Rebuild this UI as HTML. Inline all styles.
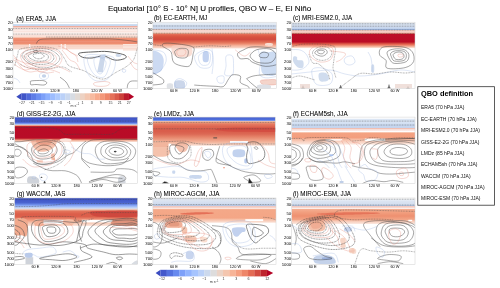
<!DOCTYPE html><html><head><meta charset="utf-8"><style>html,body{margin:0;padding:0;background:#fff;width:500px;height:288px;overflow:hidden}svg{display:block;will-change:transform}svg text{font-family:"Liberation Sans",sans-serif}</style></head><body><svg width="500" height="288" viewBox="0 0 500 288" font-family="Liberation Sans, sans-serif">
<rect width="500" height="288" fill="#ffffff"/>
<text x="108" y="11.2" font-size="8.05" fill="#000" stroke="#000" stroke-width="0.07">Equatorial [10° S - 10° N] U profiles, QBO W – E, El Niño</text>
<clipPath id="ca"><rect x="0" y="0" width="124.80" height="66.3"/></clipPath>
<text x="16.2" y="20.6" font-size="6.3" fill="#000" stroke="#000" stroke-width="0.05">(a) ERA5, JJA</text>
<g transform="translate(13.0,22.2)">
<g clip-path="url(#ca)">
<linearGradient id="ga1" gradientUnits="userSpaceOnUse" x1="0" y1="1.4000000000000021" x2="0" y2="27.8"><stop offset="0.0000" stop-color="#ffffff"/><stop offset="0.0152" stop-color="#d4e0f0"/><stop offset="0.0833" stop-color="#c4d5ee"/><stop offset="0.1061" stop-color="#eeaa9a"/><stop offset="0.1364" stop-color="#f2c0b4"/><stop offset="0.1667" stop-color="#fbeae4"/><stop offset="0.2803" stop-color="#fdf3f0"/><stop offset="0.4318" stop-color="#fdf1ec"/><stop offset="0.5189" stop-color="#f8d6c8"/><stop offset="0.5455" stop-color="#ef9478"/><stop offset="0.6591" stop-color="#ec8468"/><stop offset="0.7576" stop-color="#ee8e72"/><stop offset="0.7917" stop-color="#f4b49c"/><stop offset="0.8295" stop-color="#fbe0d6"/><stop offset="0.8864" stop-color="#f8d4c6"/><stop offset="0.9432" stop-color="#fce6de"/><stop offset="1.0000" stop-color="#ffffff"/></linearGradient>
<rect x="0.00" y="1.40" width="124.80" height="26.40" fill="url(#ga1)" opacity="1"/>
<rect x="16.00" y="22.00" width="1.30" height="6.50" fill="#ffffff" opacity="1"/>
<rect x="47.70" y="22.00" width="1.30" height="6.50" fill="#ffffff" opacity="1"/>
<rect x="51.50" y="22.00" width="1.30" height="6.50" fill="#ffffff" opacity="1"/>
<rect x="110.00" y="21.80" width="14.80" height="6.70" fill="#fbe6dd" opacity="1"/>
<path d="M0,6.3 H125" fill="none" stroke="#444444" stroke-width="0.45" stroke-dasharray="0.9 0.7" opacity="1" stroke-linejoin="round"/>
<path d="M0,11.9 H125" fill="none" stroke="#444444" stroke-width="0.45" stroke-dasharray="0.9 0.7" opacity="1" stroke-linejoin="round"/>
<path d="M33,14.8 H125" fill="none" stroke="#444444" stroke-width="0.45" stroke-dasharray="0.9 0.7" opacity="1" stroke-linejoin="round"/>
<path d="M0,7.6 H125" fill="none" stroke="#f0b0a4" stroke-width="0.3" opacity="1" stroke-linejoin="round"/>
<path d="M0,9.5 H125" fill="none" stroke="#f0b0a4" stroke-width="0.3" opacity="1" stroke-linejoin="round"/>
<path d="M0,13.0 H125" fill="none" stroke="#f0b0a4" stroke-width="0.3" opacity="1" stroke-linejoin="round"/>
<path d="M0,19.5 H125" fill="none" stroke="#f0b0a4" stroke-width="0.3" opacity="1" stroke-linejoin="round"/>
<path d="M0,23.5 H125" fill="none" stroke="#f0b0a4" stroke-width="0.3" opacity="1" stroke-linejoin="round"/>
<path d="M0,26.5 H125" fill="none" stroke="#f0b0a4" stroke-width="0.3" opacity="1" stroke-linejoin="round"/>
<path d="M23.40,21.40 C23.93,20.77 24.25,18.38 26.60,17.60 C28.95,16.82 30.77,16.87 37.50,16.70 C44.23,16.53 57.08,16.60 67.00,16.60 C76.92,16.60 89.00,16.42 97.00,16.70 C105.00,16.98 110.37,17.78 115.00,18.30 C119.63,18.82 123.17,19.55 124.80,19.80" fill="none" stroke="#444444" stroke-width="0.48" opacity="1" stroke-linejoin="round"/>
<path d="M1.00,35.80 C2.33,36.47 6.33,38.80 9.00,39.80 C11.67,40.80 13.17,41.80 17.00,41.80 C20.83,41.80 26.67,39.13 32.00,39.80 C37.33,40.47 44.83,44.13 49.00,45.80 C53.17,47.47 55.67,49.13 57.00,49.80" fill="none" stroke="#e58a7c" stroke-width="0.35" opacity="1" stroke-linejoin="round"/>
<path d="M1.00,41.80 C2.00,42.47 5.00,44.80 7.00,45.80 C9.00,46.80 10.67,47.80 13.00,47.80 C15.33,47.80 18.67,45.47 21.00,45.80 C23.33,46.13 24.67,49.47 27.00,49.80 C29.33,50.13 33.67,48.13 35.00,47.80" fill="none" stroke="#e58a7c" stroke-width="0.35" opacity="1" stroke-linejoin="round"/>
<path d="M53.00,25.80 C53.67,26.47 55.33,28.47 57.00,29.80 C58.67,31.13 61.67,32.13 63.00,33.80 C64.33,35.47 64.67,38.80 65.00,39.80" fill="none" stroke="#e58a7c" stroke-width="0.35" opacity="1" stroke-linejoin="round"/>
<path d="M1.80,43.80 C2.30,41.80 3.90,34.60 4.80,31.80 C5.70,29.00 4.20,28.20 7.20,27.00 C10.20,25.80 18.00,24.90 22.80,24.60 C27.60,24.30 32.20,24.60 36.00,25.20 C39.80,25.80 43.00,26.30 45.60,28.20 C48.20,30.10 49.80,34.00 51.60,36.60 C53.40,39.20 53.17,41.80 56.40,43.80 C59.63,45.80 66.70,46.73 71.00,48.60 C75.30,50.47 78.73,53.67 82.20,55.00 C85.67,56.33 88.33,57.40 91.80,56.60 C95.27,55.80 99.27,52.33 103.00,50.20 C106.73,48.07 111.27,45.93 114.20,43.80 C117.13,41.67 119.00,40.07 120.60,37.40 C122.20,34.73 123.10,29.90 123.80,27.80 C124.50,25.70 124.63,25.30 124.80,24.80" fill="none" stroke="#444444" stroke-width="0.45" stroke-dasharray="0.9 0.7" opacity="1" stroke-linejoin="round"/>
<path d="M7.00,41.80 C8.00,42.30 10.17,43.87 13.00,44.80 C15.83,45.73 20.00,47.13 24.00,47.40 C28.00,47.67 32.67,46.83 37.00,46.40 C41.33,45.97 46.33,44.23 50.00,44.80 C53.67,45.37 57.50,48.97 59.00,49.80" fill="none" stroke="#444444" stroke-width="0.42" stroke-dasharray="0.9 0.7" opacity="1" stroke-linejoin="round"/>
<path d="M9.60,31.80 C10.40,30.60 11.00,29.10 14.40,28.20 C17.80,27.30 25.60,26.20 30.00,26.40 C34.40,26.60 38.00,27.70 40.80,29.40 C43.60,31.10 47.00,34.20 46.80,36.60 C46.60,39.00 42.80,42.30 39.60,43.80 C36.40,45.30 31.60,46.10 27.60,45.60 C23.60,45.10 18.60,42.50 15.60,40.80 C12.60,39.10 10.60,36.90 9.60,35.40 C8.60,33.90 8.80,33.00 9.60,31.80Z" fill="none" stroke="#444444" stroke-width="0.5" stroke-dasharray="1.0 0.5" opacity="1" stroke-linejoin="round"/>
<path d="M12.00,33.00 C13.40,31.20 19.80,28.60 24.00,28.20 C28.20,27.80 34.40,29.20 37.20,30.60 C40.00,32.00 41.20,34.80 40.80,36.60 C40.40,38.40 37.60,40.50 34.80,41.40 C32.00,42.30 27.20,42.40 24.00,42.00 C20.80,41.60 17.60,40.50 15.60,39.00 C13.60,37.50 10.60,34.80 12.00,33.00Z" fill="none" stroke="#444444" stroke-width="0.5" stroke-dasharray="1.0 0.5" opacity="1" stroke-linejoin="round"/>
<path d="M15.60,33.00 C16.80,31.90 22.00,30.00 25.20,30.00 C28.40,30.00 33.40,31.70 34.80,33.00 C36.20,34.30 35.20,36.80 33.60,37.80 C32.00,38.80 27.80,39.20 25.20,39.00 C22.60,38.80 19.60,37.60 18.00,36.60 C16.40,35.60 14.40,34.10 15.60,33.00Z" fill="none" stroke="#444444" stroke-width="0.5" stroke-dasharray="1.0 0.5" opacity="1" stroke-linejoin="round"/>
<path d="M20.40,32.40 C21.40,31.70 25.80,30.90 27.60,31.20 C29.40,31.50 31.40,33.30 31.20,34.20 C31.00,35.10 28.00,36.40 26.40,36.60 C24.80,36.80 22.60,36.10 21.60,35.40 C20.60,34.70 19.40,33.10 20.40,32.40Z" fill="none" stroke="#444444" stroke-width="0.5" stroke-dasharray="1.0 0.5" opacity="1" stroke-linejoin="round"/>
<path d="M7.50,33.80 C7.50,31.38 9.75,29.70 13.00,28.30 C16.25,26.90 22.00,25.40 27.00,25.40 C32.00,25.40 39.33,26.48 43.00,28.30 C46.67,30.12 49.00,33.55 49.00,36.30 C49.00,39.05 46.67,43.05 43.00,44.80 C39.33,46.55 32.00,47.13 27.00,46.80 C22.00,46.47 16.25,44.97 13.00,42.80 C9.75,40.63 7.50,36.22 7.50,33.80Z" fill="none" stroke="#e58a7c" stroke-width="0.35" opacity="1" stroke-linejoin="round"/>
<path d="M11.00,33.30 C12.17,31.42 16.67,29.58 21.00,29.00 C25.33,28.42 33.25,28.58 37.00,29.80 C40.75,31.02 43.50,34.13 43.50,36.30 C43.50,38.47 40.25,41.55 37.00,42.80 C33.75,44.05 27.83,44.22 24.00,43.80 C20.17,43.38 16.17,42.05 14.00,40.30 C11.83,38.55 9.83,35.18 11.00,33.30Z" fill="none" stroke="#e58a7c" stroke-width="0.35" opacity="1" stroke-linejoin="round"/>
<path d="M14.00,33.20 C15.42,31.77 21.25,29.43 25.00,29.20 C28.75,28.97 34.50,30.37 36.50,31.80 C38.50,33.23 38.58,36.33 37.00,37.80 C35.42,39.27 30.42,40.60 27.00,40.60 C23.58,40.60 18.67,39.03 16.50,37.80 C14.33,36.57 12.58,34.63 14.00,33.20Z" fill="none" stroke="#e58a7c" stroke-width="0.35" opacity="1" stroke-linejoin="round"/>
<ellipse cx="22.80" cy="29.40" rx="2.20" ry="1.10" fill="none" stroke="#444444" stroke-width="0.45" opacity="1"/>
<path d="M66.20,31.00 C68.30,30.10 77.20,29.87 82.00,29.60 C86.80,29.33 90.17,28.90 95.00,29.40 C99.83,29.90 108.07,31.53 111.00,32.60 C113.93,33.67 113.43,34.93 112.60,35.80 C111.77,36.67 108.13,37.53 106.00,37.80 C103.87,38.07 102.43,38.10 99.80,37.40 C97.17,36.70 93.67,33.87 90.20,33.60 C86.73,33.33 82.47,35.57 79.00,35.80 C75.53,36.03 71.53,35.80 69.40,35.00 C67.27,34.20 64.10,31.90 66.20,31.00Z" fill="none" stroke="#444444" stroke-width="0.85" opacity="1" stroke-linejoin="round"/>
<path d="M87.80,32.60 L92.60,32.00 L89.80,50.00 L84.20,50.00 Z" fill="#cbd7ea" stroke="none" stroke-width="0.55" opacity="1" stroke-linejoin="round"/>
<path d="M103.00,32.00 C103.75,31.65 107.25,31.90 108.00,32.30 C108.75,32.70 108.25,34.05 107.50,34.40 C106.75,34.75 104.25,34.80 103.50,34.40 C102.75,34.00 102.25,32.35 103.00,32.00Z" fill="#ccd9ec" stroke="none" stroke-width="0.5" opacity="1" stroke-linejoin="round"/>
<path d="M75.00,35.80 C76.67,33.97 83.33,34.47 87.00,34.80 C90.67,35.13 95.67,35.63 97.00,37.80 C98.33,39.97 96.00,44.97 95.00,47.80 C94.00,50.63 93.00,53.80 91.00,54.80 C89.00,55.80 85.33,55.30 83.00,53.80 C80.67,52.30 78.33,48.80 77.00,45.80 C75.67,42.80 73.33,37.63 75.00,35.80Z" fill="none" stroke="#9fb8e2" stroke-width="0.35" opacity="1" stroke-linejoin="round"/>
<path d="M72.00,33.80 C74.33,31.30 82.17,32.47 87.00,32.80 C91.83,33.13 98.67,33.30 101.00,35.80 C103.33,38.30 102.33,44.13 101.00,47.80 C99.67,51.47 96.33,56.13 93.00,57.80 C89.67,59.47 84.33,59.47 81.00,57.80 C77.67,56.13 74.50,51.80 73.00,47.80 C71.50,43.80 69.67,36.30 72.00,33.80Z" fill="none" stroke="#9fb8e2" stroke-width="0.35" opacity="1" stroke-linejoin="round"/>
<path d="M81.00,36.80 C81.83,34.80 86.00,35.30 88.00,35.80 C90.00,36.30 92.50,37.80 93.00,39.80 C93.50,41.80 92.00,45.80 91.00,47.80 C90.00,49.80 88.33,51.80 87.00,51.80 C85.67,51.80 84.00,50.30 83.00,47.80 C82.00,45.30 80.17,38.80 81.00,36.80Z" fill="none" stroke="#9fb8e2" stroke-width="0.35" opacity="1" stroke-linejoin="round"/>
<ellipse cx="111.00" cy="48.60" rx="1.80" ry="1.60" fill="none" stroke="#9fb8e2" stroke-width="0.35" opacity="1"/>
<ellipse cx="31.00" cy="53.80" rx="2.20" ry="1.80" fill="#c4d3ea" stroke="none" stroke-width="0.55" opacity="1"/>
<ellipse cx="31.00" cy="53.80" rx="4.60" ry="3.60" fill="none" stroke="#9fb8e2" stroke-width="0.35" opacity="1"/>
<path d="M18.00,58.80 C19.25,58.42 22.83,58.33 25.00,58.30 C27.17,58.27 29.53,58.22 31.00,58.60 C32.47,58.98 33.80,59.90 33.80,60.60 C33.80,61.30 32.80,62.52 31.00,62.80 C29.20,63.08 25.17,62.33 23.00,62.30 C20.83,62.27 18.92,62.88 18.00,62.60 C17.08,62.32 17.50,61.23 17.50,60.60 C17.50,59.97 16.75,59.18 18.00,58.80Z" fill="none" stroke="#444444" stroke-width="0.48" opacity="1" stroke-linejoin="round"/>
<path d="M47.00,55.00 C48.00,55.80 51.40,57.93 53.00,59.80 C54.60,61.67 56.00,65.13 56.60,66.20" fill="none" stroke="#444444" stroke-width="0.48" opacity="1" stroke-linejoin="round"/>
<path d="M114.20,66.20 C114.33,65.47 114.37,63.00 115.00,61.80 C115.63,60.60 116.37,59.50 118.00,59.00 C119.63,58.50 123.67,58.83 124.80,58.80" fill="none" stroke="#444444" stroke-width="0.48" opacity="1" stroke-linejoin="round"/>
<path d="M81.00,60.80 C82.33,60.05 88.33,59.30 91.00,59.30 C93.67,59.30 96.67,60.05 97.00,60.80 C97.33,61.55 95.33,63.30 93.00,63.80 C90.67,64.30 85.00,64.30 83.00,63.80 C81.00,63.30 79.67,61.55 81.00,60.80Z" fill="none" stroke="#e58a7c" stroke-width="0.35" opacity="1" stroke-linejoin="round"/>
<path d="M1.00,55.80 C1.67,56.13 4.00,56.97 5.00,57.80 C6.00,58.63 6.67,60.30 7.00,60.80" fill="none" stroke="#9fb8e2" stroke-width="0.35" opacity="1" stroke-linejoin="round"/>
<path d="M117.00,39.80 C117.67,40.80 119.70,44.47 121.00,45.80 C122.30,47.13 124.17,47.47 124.80,47.80" fill="none" stroke="#e58a7c" stroke-width="0.35" opacity="1" stroke-linejoin="round"/>
<path d="M115.00,33.80 C115.83,34.80 118.37,38.47 120.00,39.80 C121.63,41.13 124.00,41.47 124.80,41.80" fill="none" stroke="#e58a7c" stroke-width="0.35" opacity="1" stroke-linejoin="round"/>
<path d="M0.00,37.80 C0.67,38.13 2.83,38.80 4.00,39.80 C5.17,40.80 5.83,42.47 7.00,43.80 C8.17,45.13 9.33,46.80 11.00,47.80 C12.67,48.80 14.67,49.63 17.00,49.80 C19.33,49.97 22.33,48.63 25.00,48.80 C27.67,48.97 30.33,50.63 33.00,50.80 C35.67,50.97 39.67,49.97 41.00,49.80" fill="none" stroke="#e58a7c" stroke-width="0.35" opacity="1" stroke-linejoin="round"/>
<path d="M0.00,32.80 C0.50,33.30 2.00,34.47 3.00,35.80 C4.00,37.13 4.50,39.30 6.00,40.80 C7.50,42.30 9.50,43.80 12.00,44.80 C14.50,45.80 17.83,46.47 21.00,46.80 C24.17,47.13 28.00,46.63 31.00,46.80 C34.00,46.97 36.33,47.13 39.00,47.80 C41.67,48.47 45.67,50.30 47.00,50.80" fill="none" stroke="#e58a7c" stroke-width="0.35" opacity="1" stroke-linejoin="round"/>
<path d="M49.00,27.80 C49.67,28.63 51.67,31.13 53.00,32.80 C54.33,34.47 55.33,36.47 57.00,37.80 C58.67,39.13 61.33,39.13 63.00,40.80 C64.67,42.47 66.33,46.63 67.00,47.80" fill="none" stroke="#e58a7c" stroke-width="0.35" opacity="1" stroke-linejoin="round"/>
<path d="M45.00,23.80 C46.00,24.13 48.67,24.63 51.00,25.80 C53.33,26.97 56.67,29.47 59.00,30.80 C61.33,32.13 64.00,33.30 65.00,33.80" fill="none" stroke="#e58a7c" stroke-width="0.35" opacity="1" stroke-linejoin="round"/>
</g>
<rect x="0" y="0" width="124.80" height="66.3" fill="none" stroke="#d0d0d0" stroke-width="0.5"/>
<text x="-0.4" y="1.50" font-size="4.3" text-anchor="end" fill="#000">20</text>
<line x1="-0.8" y1="0.00" x2="0" y2="0.00" stroke="#666" stroke-width="0.3"/>
<text x="-0.4" y="8.37" font-size="4.3" text-anchor="end" fill="#000">30</text>
<line x1="-0.8" y1="6.87" x2="0" y2="6.87" stroke="#666" stroke-width="0.3"/>
<text x="-0.4" y="17.03" font-size="4.3" text-anchor="end" fill="#000">50</text>
<line x1="-0.8" y1="15.53" x2="0" y2="15.53" stroke="#666" stroke-width="0.3"/>
<text x="-0.4" y="22.73" font-size="4.3" text-anchor="end" fill="#000">70</text>
<line x1="-0.8" y1="21.23" x2="0" y2="21.23" stroke="#666" stroke-width="0.3"/>
<text x="-0.4" y="28.78" font-size="4.3" text-anchor="end" fill="#000">100</text>
<line x1="-0.8" y1="27.28" x2="0" y2="27.28" stroke="#666" stroke-width="0.3"/>
<text x="-0.4" y="40.52" font-size="4.3" text-anchor="end" fill="#000">200</text>
<line x1="-0.8" y1="39.02" x2="0" y2="39.02" stroke="#666" stroke-width="0.3"/>
<text x="-0.4" y="47.40" font-size="4.3" text-anchor="end" fill="#000">300</text>
<line x1="-0.8" y1="45.90" x2="0" y2="45.90" stroke="#666" stroke-width="0.3"/>
<text x="-0.4" y="56.05" font-size="4.3" text-anchor="end" fill="#000">500</text>
<line x1="-0.8" y1="54.55" x2="0" y2="54.55" stroke="#666" stroke-width="0.3"/>
<text x="-0.4" y="61.76" font-size="4.3" text-anchor="end" fill="#000">700</text>
<line x1="-0.8" y1="60.26" x2="0" y2="60.26" stroke="#666" stroke-width="0.3"/>
<text x="-0.4" y="67.80" font-size="4.3" text-anchor="end" fill="#000">1000</text>
<line x1="-0.8" y1="66.30" x2="0" y2="66.30" stroke="#666" stroke-width="0.3"/>
<text x="21.30" y="70.10" font-size="3.9" text-anchor="middle" fill="#000">60 E</text>
<text x="42.10" y="70.10" font-size="3.9" text-anchor="middle" fill="#000">120 E</text>
<text x="62.90" y="70.10" font-size="3.9" text-anchor="middle" fill="#000">180</text>
<text x="83.70" y="70.10" font-size="3.9" text-anchor="middle" fill="#000">120 W</text>
<text x="104.50" y="70.10" font-size="3.9" text-anchor="middle" fill="#000">60 W</text>
</g>
<clipPath id="cb"><rect x="0" y="0" width="123.40" height="66.3"/></clipPath>
<text x="154.0" y="20.4" font-size="6.3" fill="#000" stroke="#000" stroke-width="0.05">(b) EC-EARTH, MJ</text>
<g transform="translate(152.9,22.2)">
<g clip-path="url(#cb)">
<linearGradient id="gb2" gradientUnits="userSpaceOnUse" x1="0" y1="0.0" x2="0" y2="26.8"><stop offset="0.0000" stop-color="#e8eef6"/><stop offset="0.0858" stop-color="#e0e8f3"/><stop offset="0.1231" stop-color="#d0ddf0"/><stop offset="0.2537" stop-color="#cddaee"/><stop offset="0.2761" stop-color="#f2cfc4"/><stop offset="0.3097" stop-color="#f6dcd4"/><stop offset="0.3657" stop-color="#fbeee8"/><stop offset="0.4179" stop-color="#f2ab92"/><stop offset="0.4627" stop-color="#e26650"/><stop offset="0.5522" stop-color="#d8523f"/><stop offset="0.6418" stop-color="#d24a3e"/><stop offset="0.7351" stop-color="#e06a52"/><stop offset="0.8060" stop-color="#ec8a6e"/><stop offset="0.8694" stop-color="#f4b098"/><stop offset="0.9440" stop-color="#f8d0c0"/><stop offset="1.0000" stop-color="#ffffff"/></linearGradient>
<rect x="0.00" y="0.00" width="123.40" height="26.80" fill="url(#gb2)" opacity="1"/>
<path d="M0,3.8 H125" fill="none" stroke="#444444" stroke-width="0.45" stroke-dasharray="0.9 0.7" opacity="1" stroke-linejoin="round"/>
<path d="M0,7.2 H125" fill="none" stroke="#444444" stroke-width="0.45" stroke-dasharray="0.9 0.7" opacity="1" stroke-linejoin="round"/>
<path d="M0,11.0 H125" fill="none" stroke="#444444" stroke-width="0.45" stroke-dasharray="0.9 0.7" opacity="1" stroke-linejoin="round"/>
<path d="M0,9.0 H125" fill="none" stroke="#e9a090" stroke-width="0.35" opacity="1" stroke-linejoin="round"/>
<path d="M112.88,21.08 C113.95,20.65 118.21,20.65 119.28,21.08 C120.35,21.51 120.35,23.21 119.28,23.64 C118.21,24.07 113.95,24.07 112.88,23.64 C111.81,23.21 111.81,21.51 112.88,21.08Z" fill="#f8dcd0" stroke="none" stroke-width="0.5" opacity="1" stroke-linejoin="round"/>
<path d="M-0.90,30.04 C0.38,26.73 4.86,29.61 6.78,30.68 C8.70,31.75 10.09,34.00 10.62,36.45 C11.15,38.91 10.62,43.17 9.98,45.41 C9.34,47.65 8.59,49.04 6.78,49.89 C4.97,50.74 0.38,53.84 -0.90,50.53 C-2.18,47.22 -2.18,33.35 -0.90,30.04Z" fill="#ccdaf2" stroke="none" stroke-width="0.5" opacity="1" stroke-linejoin="round"/>
<path d="M50.32,30.04 C51.17,28.55 54.59,28.55 55.44,30.04 C56.29,31.54 56.29,37.52 55.44,39.01 C54.59,40.51 51.17,40.51 50.32,39.01 C49.47,37.52 49.47,31.54 50.32,30.04Z" fill="#c2d2f0" stroke="none" stroke-width="0.5" opacity="1" stroke-linejoin="round"/>
<path d="M107.76,30.04 C109.04,28.33 112.88,29.83 115.44,30.04 C118.00,30.25 121.84,27.69 123.12,31.32 C124.40,34.95 125.25,48.40 123.12,51.81 C120.99,55.23 112.88,53.73 110.32,51.81 C107.76,49.89 108.19,43.92 107.76,40.29 C107.33,36.66 106.48,31.75 107.76,30.04Z" fill="#cddcf2" stroke="none" stroke-width="0.5" opacity="1" stroke-linejoin="round"/>
<path d="M22.15,59.01 C23.64,57.73 29.62,57.73 31.11,59.01 C32.60,60.29 32.60,65.41 31.11,66.69 C29.62,67.97 23.64,67.97 22.15,66.69 C20.66,65.41 20.66,60.29 22.15,59.01Z" fill="#cbd6ea" stroke="none" stroke-width="0.5" opacity="1" stroke-linejoin="round"/>
<path d="M19.59,23.64 C22.15,22.04 34.52,22.57 37.51,24.28 C40.50,25.99 40.07,32.28 37.51,33.88 C34.95,35.48 25.14,35.59 22.15,33.88 C19.16,32.17 17.03,25.24 19.59,23.64Z" fill="#f7d2c4" stroke="none" stroke-width="0.5" opacity="0.7" stroke-linejoin="round"/>
<path d="M107.76,58.37 C108.61,57.56 112.88,57.58 115.44,57.47 C118.00,57.36 121.84,56.94 123.12,57.73 C124.40,58.52 125.25,61.44 123.12,62.21 C120.99,62.98 112.88,62.98 110.32,62.34 C107.76,61.70 106.91,59.18 107.76,58.37Z" fill="#f4d4ca" stroke="#e58a7c" stroke-width="0.35" opacity="1" stroke-linejoin="round"/>
<path d="M105.19,62.85 C107.11,62.21 114.80,62.21 116.72,62.85 C118.64,63.49 118.64,66.05 116.72,66.69 C114.80,67.33 107.11,67.33 105.19,66.69 C103.27,66.05 103.27,63.49 105.19,62.85Z" fill="#dde0e6" stroke="none" stroke-width="0.5" opacity="1" stroke-linejoin="round"/>
<path d="M14.46,61.57 C15.32,60.72 18.74,60.72 19.59,61.57 C20.45,62.42 20.45,65.84 19.59,66.69 C18.74,67.54 15.32,67.54 14.46,66.69 C13.61,65.84 13.61,62.42 14.46,61.57Z" fill="#e0e2e6" stroke="none" stroke-width="0.5" opacity="1" stroke-linejoin="round"/>
<path d="M-0.90,27.48 C1.02,27.91 8.27,28.12 10.62,30.04 C12.97,31.96 13.82,35.81 13.18,39.01 C12.54,42.21 9.13,47.12 6.78,49.25 C4.43,51.38 0.38,51.38 -0.90,51.81" fill="none" stroke="#9fb8e2" stroke-width="0.35" opacity="1" stroke-linejoin="round"/>
<path d="M42.63,32.60 C44.34,30.68 50.10,27.91 52.88,27.48 C55.65,27.05 58.43,27.27 59.28,30.04 C60.13,32.82 59.92,41.57 58.00,44.13 C56.08,46.69 50.32,46.26 47.76,45.41 C45.20,44.56 43.48,41.15 42.63,39.01 C41.77,36.88 40.92,34.52 42.63,32.60Z" fill="none" stroke="#9fb8e2" stroke-width="0.35" opacity="1" stroke-linejoin="round"/>
<path d="M46.48,32.60 C47.65,31.21 51.07,29.51 52.88,29.40 C54.69,29.29 56.83,29.93 57.36,31.96 C57.89,33.99 57.47,39.76 56.08,41.57 C54.69,43.39 50.75,43.49 49.04,42.85 C47.33,42.21 46.26,39.44 45.83,37.73 C45.40,36.02 45.30,33.99 46.48,32.60Z" fill="none" stroke="#9fb8e2" stroke-width="0.35" opacity="1" stroke-linejoin="round"/>
<path d="M73.18,33.88 C74.25,32.23 78.35,32.23 79.59,33.88 C80.83,35.53 80.60,40.68 80.60,43.80 C80.60,46.92 81.05,51.13 79.60,52.60 C78.15,54.07 72.97,54.07 71.90,52.60 C70.83,51.13 72.97,46.92 73.18,43.80 C73.39,40.68 72.11,35.53 73.18,33.88Z" fill="none" stroke="#9fb8e2" stroke-width="0.35" opacity="1" stroke-linejoin="round"/>
<path d="M59.10,26.20 C59.31,28.34 60.38,34.74 60.38,39.01 C60.38,43.28 59.31,49.68 59.10,51.81" fill="none" stroke="#9fb8e2" stroke-width="0.35" opacity="1" stroke-linejoin="round"/>
<path d="M105.19,27.48 C105.62,29.40 107.55,34.96 107.76,39.01 C107.98,43.07 105.63,49.04 106.48,51.81 C107.33,54.58 110.11,55.22 112.88,55.65 C115.65,56.08 121.41,54.58 123.12,54.37" fill="none" stroke="#9fb8e2" stroke-width="0.35" opacity="1" stroke-linejoin="round"/>
<path d="M22.15,59.01 C22.79,57.52 25.35,56.24 27.27,56.45 C29.19,56.66 33.03,58.80 33.67,60.29 C34.31,61.78 32.82,64.56 31.11,65.41 C29.40,66.26 24.92,66.48 23.43,65.41 C21.94,64.34 21.51,60.50 22.15,59.01Z" fill="none" stroke="#9fb8e2" stroke-width="0.35" opacity="1" stroke-linejoin="round"/>
<path d="M64.22,55.16 C65.07,54.09 69.55,53.02 70.62,53.88 C71.69,54.73 71.47,59.22 70.62,60.29 C69.77,61.36 66.57,61.14 65.50,60.29 C64.43,59.43 63.37,56.23 64.22,55.16Z" fill="none" stroke="#9fb8e2" stroke-width="0.35" opacity="1" stroke-linejoin="round"/>
<path d="M9.34,23.64 C9.13,22.79 9.34,21.40 11.90,21.08 C14.46,20.76 20.02,21.08 24.71,21.72 C29.41,22.36 37.51,23.11 40.07,24.92 C42.63,26.73 40.50,29.61 40.07,32.60 C39.64,35.59 39.00,40.93 37.51,42.85 C36.02,44.77 33.88,44.56 31.11,44.13 C28.34,43.70 23.00,42.64 20.87,40.29 C18.74,37.94 19.59,32.39 18.31,30.04 C17.03,27.69 14.68,27.27 13.18,26.20 C11.69,25.13 9.55,24.49 9.34,23.64Z" fill="none" stroke="#444444" stroke-width="0.48" opacity="1" stroke-linejoin="round"/>
<path d="M22.15,28.76 C23.00,27.91 25.14,26.41 27.27,26.20 C29.40,25.99 33.88,25.99 34.95,27.48 C36.02,28.97 35.38,33.88 33.67,35.16 C31.96,36.44 26.63,35.80 24.71,35.16 C22.79,34.52 22.58,32.39 22.15,31.32 C21.72,30.25 21.30,29.61 22.15,28.76Z" fill="none" stroke="#444444" stroke-width="0.48" opacity="1" stroke-linejoin="round"/>
<path d="M24.07,28.76 C24.82,27.69 28.34,26.73 29.83,26.84 C31.32,26.95 32.82,28.33 33.03,29.40 C33.24,30.47 32.39,32.60 31.11,33.24 C29.83,33.88 26.52,33.99 25.35,33.24 C24.18,32.49 23.32,29.83 24.07,28.76Z" fill="none" stroke="#e58a7c" stroke-width="0.35" opacity="1" stroke-linejoin="round"/>
<path d="M-0.90,22.36 C0.81,22.57 7.63,23.43 9.34,23.64" fill="none" stroke="#444444" stroke-width="0.45" stroke-dasharray="0.9 0.7" opacity="1" stroke-linejoin="round"/>
<path d="M40.07,24.92 C42.84,24.71 51.60,23.75 56.72,23.64 C61.84,23.53 67.17,24.28 70.80,24.28 C74.43,24.28 77.21,23.75 78.49,23.64" fill="none" stroke="#444444" stroke-width="0.45" stroke-dasharray="0.9 0.7" opacity="1" stroke-linejoin="round"/>
<path d="M84.71,31.32 C85.35,29.83 88.98,28.55 91.11,27.48 C93.24,26.41 94.31,25.35 97.51,24.92 C100.71,24.49 105.63,24.49 110.32,24.92 C115.02,25.35 122.27,25.77 125.68,27.48 C129.09,29.19 130.80,32.81 130.80,35.16 C130.80,37.51 128.67,40.08 125.68,41.57 C122.69,43.07 117.15,44.34 112.88,44.13 C108.61,43.92 103.06,41.57 100.07,40.29 C97.08,39.01 97.08,37.09 94.95,36.45 C92.82,35.81 88.98,37.30 87.27,36.45 C85.56,35.60 84.07,32.82 84.71,31.32Z" fill="none" stroke="#444444" stroke-width="0.5" opacity="1" stroke-linejoin="round"/>
<path d="M97.51,32.60 C98.36,31.10 100.71,28.44 103.91,27.48 C107.11,26.52 113.52,25.99 116.72,26.84 C119.92,27.69 122.91,30.36 123.12,32.60 C123.33,34.84 120.99,39.01 118.00,40.29 C115.01,41.57 108.39,40.93 105.19,40.29 C101.99,39.65 100.07,37.73 98.79,36.45 C97.51,35.17 96.66,34.09 97.51,32.60Z" fill="none" stroke="#444444" stroke-width="0.5" opacity="1" stroke-linejoin="round"/>
<path d="M106.48,32.60 C106.91,31.75 108.83,30.25 110.32,30.04 C111.81,29.83 114.80,30.47 115.44,31.32 C116.08,32.17 115.44,34.52 114.16,35.16 C112.88,35.80 109.04,35.59 107.76,35.16 C106.48,34.73 106.05,33.45 106.48,32.60Z" fill="none" stroke="#444444" stroke-width="0.5" opacity="1" stroke-linejoin="round"/>
<path d="M82.15,27.48 C83.64,28.55 88.55,33.45 91.11,33.88 C93.67,34.31 96.44,30.68 97.51,30.04" fill="none" stroke="#e58a7c" stroke-width="0.35" opacity="1" stroke-linejoin="round"/>
<path d="M-0.90,50.04 C0.17,50.68 3.58,52.60 5.50,53.88 C7.42,55.16 9.98,56.45 10.62,57.73 C11.26,59.01 11.26,60.72 9.34,61.57 C7.42,62.42 0.81,62.64 -0.90,62.85" fill="none" stroke="#444444" stroke-width="0.48" opacity="1" stroke-linejoin="round"/>
<path d="M41.35,62.85 C42.84,62.96 46.69,63.28 50.32,63.49 C53.95,63.70 59.71,64.02 63.12,64.13 C66.53,64.24 68.67,65.41 70.80,64.13 C72.93,62.85 74.42,58.37 75.92,56.45 C77.41,54.53 77.85,53.03 79.77,52.60 C81.69,52.17 86.17,52.60 87.45,53.88 C88.73,55.16 86.17,58.58 87.45,60.29 C88.73,62.00 93.64,63.06 95.13,64.13 C96.62,65.20 96.20,66.26 96.41,66.69" fill="none" stroke="#444444" stroke-width="0.48" opacity="1" stroke-linejoin="round"/>
<path d="M93.67,56.45 C94.74,56.02 97.29,54.52 100.07,53.88 C102.84,53.24 106.48,52.92 110.32,52.60 C114.16,52.28 120.99,52.07 123.12,51.96" fill="none" stroke="#444444" stroke-width="0.48" opacity="1" stroke-linejoin="round"/>
<path d="M93.67,56.45 C94.31,57.09 95.59,58.58 97.51,60.29 C99.43,62.00 103.91,65.62 105.19,66.69" fill="none" stroke="#444444" stroke-width="0.48" opacity="1" stroke-linejoin="round"/>
</g>
<rect x="0" y="0" width="123.40" height="66.3" fill="none" stroke="#d0d0d0" stroke-width="0.5"/>
<text x="-0.4" y="1.50" font-size="4.3" text-anchor="end" fill="#000">20</text>
<line x1="-0.8" y1="0.00" x2="0" y2="0.00" stroke="#666" stroke-width="0.3"/>
<text x="-0.4" y="8.37" font-size="4.3" text-anchor="end" fill="#000">30</text>
<line x1="-0.8" y1="6.87" x2="0" y2="6.87" stroke="#666" stroke-width="0.3"/>
<text x="-0.4" y="17.03" font-size="4.3" text-anchor="end" fill="#000">50</text>
<line x1="-0.8" y1="15.53" x2="0" y2="15.53" stroke="#666" stroke-width="0.3"/>
<text x="-0.4" y="22.73" font-size="4.3" text-anchor="end" fill="#000">70</text>
<line x1="-0.8" y1="21.23" x2="0" y2="21.23" stroke="#666" stroke-width="0.3"/>
<text x="-0.4" y="28.78" font-size="4.3" text-anchor="end" fill="#000">100</text>
<line x1="-0.8" y1="27.28" x2="0" y2="27.28" stroke="#666" stroke-width="0.3"/>
<text x="-0.4" y="40.52" font-size="4.3" text-anchor="end" fill="#000">200</text>
<line x1="-0.8" y1="39.02" x2="0" y2="39.02" stroke="#666" stroke-width="0.3"/>
<text x="-0.4" y="47.40" font-size="4.3" text-anchor="end" fill="#000">300</text>
<line x1="-0.8" y1="45.90" x2="0" y2="45.90" stroke="#666" stroke-width="0.3"/>
<text x="-0.4" y="56.05" font-size="4.3" text-anchor="end" fill="#000">500</text>
<line x1="-0.8" y1="54.55" x2="0" y2="54.55" stroke="#666" stroke-width="0.3"/>
<text x="-0.4" y="61.76" font-size="4.3" text-anchor="end" fill="#000">700</text>
<line x1="-0.8" y1="60.26" x2="0" y2="60.26" stroke="#666" stroke-width="0.3"/>
<text x="-0.4" y="67.80" font-size="4.3" text-anchor="end" fill="#000">1000</text>
<line x1="-0.8" y1="66.30" x2="0" y2="66.30" stroke="#666" stroke-width="0.3"/>
<text x="21.07" y="70.10" font-size="3.9" text-anchor="middle" fill="#000">60 E</text>
<text x="41.63" y="70.10" font-size="3.9" text-anchor="middle" fill="#000">120 E</text>
<text x="62.20" y="70.10" font-size="3.9" text-anchor="middle" fill="#000">180</text>
<text x="82.77" y="70.10" font-size="3.9" text-anchor="middle" fill="#000">120 W</text>
<text x="103.33" y="70.10" font-size="3.9" text-anchor="middle" fill="#000">60 W</text>
</g>
<clipPath id="cc"><rect x="0" y="0" width="123.40" height="66.3"/></clipPath>
<text x="293.0" y="20.4" font-size="6.3" fill="#000" stroke="#000" stroke-width="0.05">(c) MRI-ESM2.0, JJA</text>
<g transform="translate(291.6,22.2)">
<g clip-path="url(#cc)">
<linearGradient id="gc3" gradientUnits="userSpaceOnUse" x1="0" y1="0.40000000000000213" x2="0" y2="26.400000000000002"><stop offset="0.0000" stop-color="#ffffff"/><stop offset="0.0231" stop-color="#dde6f2"/><stop offset="0.1500" stop-color="#d2ddef"/><stop offset="0.2462" stop-color="#bccfec"/><stop offset="0.2769" stop-color="#8aa4d4"/><stop offset="0.3000" stop-color="#f2c8bc"/><stop offset="0.3692" stop-color="#f5d4ca"/><stop offset="0.4154" stop-color="#e8907c"/><stop offset="0.4385" stop-color="#bd1028"/><stop offset="0.7462" stop-color="#bb0c26"/><stop offset="0.7846" stop-color="#cf3c38"/><stop offset="0.8462" stop-color="#e87058"/><stop offset="0.9077" stop-color="#f2a890"/><stop offset="0.9615" stop-color="#fad8c8"/><stop offset="1.0000" stop-color="#ffffff"/></linearGradient>
<rect x="0.00" y="0.40" width="123.40" height="26.00" fill="url(#gc3)" opacity="1"/>
<path d="M0,1.6 H125" fill="none" stroke="#444444" stroke-width="0.45" stroke-dasharray="0.9 0.7" opacity="1" stroke-linejoin="round"/>
<path d="M0,4.0 H125" fill="none" stroke="#444444" stroke-width="0.45" stroke-dasharray="0.9 0.7" opacity="1" stroke-linejoin="round"/>
<path d="M0,7.8 H125" fill="none" stroke="#444444" stroke-width="0.45" stroke-dasharray="0.9 0.7" opacity="1" stroke-linejoin="round"/>
<path d="M0,11.4 H125" fill="none" stroke="#444444" stroke-width="0.45" stroke-dasharray="0.9 0.7" opacity="1" stroke-linejoin="round"/>
<path d="M1.80,34.60 C2.40,33.77 4.72,34.27 5.40,34.80 C6.08,35.33 4.90,37.13 5.90,37.80 C6.90,38.47 10.48,37.53 11.40,38.80 C12.32,40.07 12.23,44.30 11.40,45.40 C10.57,46.50 8.00,46.33 6.40,45.40 C4.80,44.47 2.57,41.60 1.80,39.80 C1.03,38.00 1.20,35.43 1.80,34.60Z" fill="#d0dcee" stroke="none" stroke-width="0.5" opacity="1" stroke-linejoin="round"/>
<path d="M27.40,51.30 C28.40,49.97 32.73,50.05 34.40,50.80 C36.07,51.55 37.23,54.47 37.40,55.80 C37.57,57.13 36.90,58.30 35.40,58.80 C33.90,59.30 29.73,60.05 28.40,58.80 C27.07,57.55 26.40,52.63 27.40,51.30Z" fill="#d0dcee" stroke="none" stroke-width="0.5" opacity="1" stroke-linejoin="round"/>
<path d="M80.00,43.00 C80.40,41.87 82.00,41.87 82.40,43.00 C82.80,44.13 82.80,48.67 82.40,49.80 C82.00,50.93 80.40,50.93 80.00,49.80 C79.60,48.67 79.60,44.13 80.00,43.00Z" fill="#d0dcee" stroke="none" stroke-width="0.5" opacity="1" stroke-linejoin="round"/>
<path d="M0.00,27.40 C1.40,27.47 6.00,27.07 8.40,27.80 C10.80,28.53 12.90,29.80 14.40,31.80 C15.90,33.80 17.73,37.47 17.40,39.80 C17.07,42.13 14.23,44.47 12.40,45.80 C10.57,47.13 8.47,47.47 6.40,47.80 C4.33,48.13 1.07,47.80 0.00,47.80" fill="none" stroke="#9fb8e2" stroke-width="0.35" opacity="1" stroke-linejoin="round"/>
<path d="M0.00,51.80 C3.07,51.47 12.00,50.47 18.40,49.80 C24.80,49.13 32.57,47.47 38.40,47.80 C44.23,48.13 48.40,50.80 53.40,51.80 C58.40,52.80 62.57,53.80 68.40,53.80 C74.23,53.80 81.73,52.80 88.40,51.80 C95.07,50.80 102.57,48.13 108.40,47.80 C114.23,47.47 120.90,49.47 123.40,49.80" fill="none" stroke="#9fb8e2" stroke-width="0.35" opacity="1" stroke-linejoin="round"/>
<path d="M53.40,35.80 C54.57,34.63 58.73,33.13 60.40,33.80 C62.07,34.47 63.73,38.30 63.40,39.80 C63.07,41.30 60.07,42.63 58.40,42.80 C56.73,42.97 54.23,41.97 53.40,40.80 C52.57,39.63 52.23,36.97 53.40,35.80Z" fill="none" stroke="#9fb8e2" stroke-width="0.35" opacity="1" stroke-linejoin="round"/>
<path d="M20.40,47.80 C21.40,45.13 27.07,45.13 30.40,45.80 C33.73,46.47 39.07,49.13 40.40,51.80 C41.73,54.47 41.07,60.13 38.40,61.80 C35.73,63.47 27.40,64.13 24.40,61.80 C21.40,59.47 19.40,50.47 20.40,47.80Z" fill="none" stroke="#9fb8e2" stroke-width="0.35" opacity="1" stroke-linejoin="round"/>
<path d="M76.40,29.80 C76.90,30.80 78.73,33.47 79.40,35.80 C80.07,38.13 80.23,41.47 80.40,43.80 C80.57,46.13 80.40,48.80 80.40,49.80" fill="none" stroke="#9fb8e2" stroke-width="0.35" opacity="1" stroke-linejoin="round"/>
<path d="M0.00,24.40 C1.90,24.00 6.50,22.40 11.40,22.00 C16.30,21.60 24.40,21.70 29.40,22.00 C34.40,22.30 39.00,22.90 41.40,23.80 C43.80,24.70 43.60,25.40 43.80,27.40 C44.00,29.40 43.00,32.80 42.60,35.80 C42.20,38.80 41.40,43.07 41.40,45.40 C41.40,47.73 42.10,48.07 42.60,49.80 C43.10,51.53 44.10,54.80 44.40,55.80" fill="none" stroke="#444444" stroke-width="0.45" stroke-dasharray="0.9 0.7" opacity="1" stroke-linejoin="round"/>
<path d="M21.00,29.80 C21.60,28.00 24.60,25.80 27.00,25.00 C29.40,24.20 33.20,24.20 35.40,25.00 C37.60,25.80 39.80,28.00 40.20,29.80 C40.60,31.60 39.40,34.40 37.80,35.80 C36.20,37.20 33.00,38.20 30.60,38.20 C28.20,38.20 25.00,37.20 23.40,35.80 C21.80,34.40 20.40,31.60 21.00,29.80Z" fill="none" stroke="#444444" stroke-width="0.45" stroke-dasharray="0.9 0.7" opacity="1" stroke-linejoin="round"/>
<path d="M17.40,32.20 C18.00,33.60 19.40,39.00 21.00,40.60 C22.60,42.20 24.60,40.27 27.00,41.80 C29.40,43.33 33.50,47.13 35.40,49.80 C37.30,52.47 37.90,56.47 38.40,57.80" fill="none" stroke="#444444" stroke-width="0.45" stroke-dasharray="0.9 0.7" opacity="1" stroke-linejoin="round"/>
<path d="M23.40,29.80 C24.00,28.90 26.40,27.20 28.20,26.80 C30.00,26.40 33.00,26.70 34.20,27.40 C35.40,28.10 36.00,29.90 35.40,31.00 C34.80,32.10 32.40,33.80 30.60,34.00 C28.80,34.20 25.80,32.90 24.60,32.20 C23.40,31.50 22.80,30.70 23.40,29.80Z" fill="none" stroke="#444444" stroke-width="0.45" opacity="1" stroke-linejoin="round"/>
<path d="M25.80,29.20 C26.20,28.70 28.20,28.00 29.40,28.00 C30.60,28.00 32.80,28.60 33.00,29.20 C33.20,29.80 31.60,31.30 30.60,31.60 C29.60,31.90 27.80,31.40 27.00,31.00 C26.20,30.60 25.40,29.70 25.80,29.20Z" fill="none" stroke="#444444" stroke-width="0.45" opacity="1" stroke-linejoin="round"/>
<path d="M18.40,27.80 C19.57,25.88 23.07,23.88 26.40,23.30 C29.73,22.72 35.82,23.22 38.40,24.30 C40.98,25.38 41.90,27.55 41.90,29.80 C41.90,32.05 40.65,36.13 38.40,37.80 C36.15,39.47 31.57,40.30 28.40,39.80 C25.23,39.30 21.07,36.80 19.40,34.80 C17.73,32.80 17.23,29.72 18.40,27.80Z" fill="none" stroke="#e58a7c" stroke-width="0.35" opacity="1" stroke-linejoin="round"/>
<path d="M37.80,28.60 C40.40,29.00 51.40,29.60 53.40,31.00 C55.40,32.40 51.30,35.53 49.80,37.00 C48.30,38.47 45.30,39.33 44.40,39.80" fill="none" stroke="#e58a7c" stroke-width="0.35" opacity="1" stroke-linejoin="round"/>
<path d="M88.40,27.40 C89.40,25.90 90.40,24.80 94.40,24.40 C98.40,24.00 108.00,24.10 112.40,25.00 C116.80,25.90 119.20,27.40 120.80,29.80 C122.40,32.20 123.20,36.80 122.00,39.40 C120.80,42.00 118.00,44.30 113.60,45.40 C109.20,46.50 98.80,47.20 95.60,46.00 C92.40,44.80 95.60,40.30 94.40,38.20 C93.20,36.10 89.40,35.20 88.40,33.40 C87.40,31.60 87.40,28.90 88.40,27.40Z" fill="none" stroke="#444444" stroke-width="0.48" opacity="1" stroke-linejoin="round"/>
<path d="M95.60,29.80 C96.40,28.10 100.00,27.20 102.80,26.80 C105.60,26.40 110.00,26.50 112.40,27.40 C114.80,28.30 116.80,30.20 117.20,32.20 C117.60,34.20 117.20,37.90 114.80,39.40 C112.40,40.90 105.60,41.60 102.80,41.20 C100.00,40.80 99.20,38.90 98.00,37.00 C96.80,35.10 94.80,31.50 95.60,29.80Z" fill="none" stroke="#444444" stroke-width="0.48" opacity="1" stroke-linejoin="round"/>
<path d="M99.20,31.00 C99.90,30.00 101.80,28.90 104.00,28.60 C106.20,28.30 110.60,28.40 112.40,29.20 C114.20,30.00 114.80,31.90 114.80,33.40 C114.80,34.90 114.40,37.30 112.40,38.20 C110.40,39.10 104.90,39.40 102.80,38.80 C100.70,38.20 100.40,35.90 99.80,34.60 C99.20,33.30 98.50,32.00 99.20,31.00Z" fill="none" stroke="#444444" stroke-width="0.48" opacity="1" stroke-linejoin="round"/>
<path d="M101.60,32.20 C102.00,31.00 104.80,30.00 106.40,29.80 C108.00,29.60 110.20,30.20 111.20,31.00 C112.20,31.80 112.60,33.60 112.40,34.60 C112.20,35.60 111.40,36.60 110.00,37.00 C108.60,37.40 105.40,37.80 104.00,37.00 C102.60,36.20 101.20,33.40 101.60,32.20Z" fill="none" stroke="#444444" stroke-width="0.48" opacity="1" stroke-linejoin="round"/>
<path d="M106.40,32.40 C106.90,31.93 109.57,31.70 110.40,32.00 C111.23,32.30 111.90,33.73 111.40,34.20 C110.90,34.67 108.23,35.10 107.40,34.80 C106.57,34.50 105.90,32.87 106.40,32.40Z" fill="none" stroke="#e58a7c" stroke-width="0.35" opacity="1" stroke-linejoin="round"/>
<path d="M47.40,66.20 C49.23,64.80 54.90,60.28 58.40,57.80 C61.90,55.32 64.23,52.30 68.40,51.30 C72.57,50.30 78.40,52.05 83.40,51.80 C88.40,51.55 93.40,49.97 98.40,49.80 C103.40,49.63 109.23,50.80 113.40,50.80 C117.57,50.80 121.73,49.97 123.40,49.80" fill="none" stroke="#444444" stroke-width="0.45" stroke-dasharray="0.9 0.7" opacity="1" stroke-linejoin="round"/>
<path d="M0.00,55.80 C1.40,55.47 4.50,53.47 8.40,53.80 C12.30,54.13 20.90,57.13 23.40,57.80" fill="none" stroke="#444444" stroke-width="0.45" stroke-dasharray="0.9 0.7" opacity="1" stroke-linejoin="round"/>
<path d="M9.799999999999978,66.3 L10.899999999999977,64.8 L11.399999999999977,63.3 L11.899999999999977,64.8 L12.999999999999977,66.3Z" fill="#666" stroke="#444444" stroke-width="0.3" opacity="1" stroke-linejoin="round"/>
<path d="M47.4,66.3 L48.5,64.55 L49.0,62.8 L49.5,64.55 L50.6,66.3Z" fill="#666" stroke="#444444" stroke-width="0.3" opacity="1" stroke-linejoin="round"/>
<path d="M95.79999999999998,66.3 L96.89999999999998,64.3 L97.39999999999998,62.3 L97.89999999999998,64.3 L98.99999999999997,66.3Z" fill="#666" stroke="#444444" stroke-width="0.3" opacity="1" stroke-linejoin="round"/>
<path d="M114.79999999999998,66.3 L115.89999999999998,65.2 L116.39999999999998,64.1 L116.89999999999998,65.2 L117.99999999999997,66.3Z" fill="#666" stroke="#444444" stroke-width="0.3" opacity="1" stroke-linejoin="round"/>
<rect x="8.40" y="61.80" width="10.00" height="4.50" fill="#ecd8d2" opacity="0.8"/>
<rect x="103.40" y="61.80" width="17.00" height="4.50" fill="#ecd8d2" opacity="0.8"/>
</g>
<rect x="0" y="0" width="123.40" height="66.3" fill="none" stroke="#d0d0d0" stroke-width="0.5"/>
<text x="-0.4" y="1.50" font-size="4.3" text-anchor="end" fill="#000">20</text>
<line x1="-0.8" y1="0.00" x2="0" y2="0.00" stroke="#666" stroke-width="0.3"/>
<text x="-0.4" y="8.37" font-size="4.3" text-anchor="end" fill="#000">30</text>
<line x1="-0.8" y1="6.87" x2="0" y2="6.87" stroke="#666" stroke-width="0.3"/>
<text x="-0.4" y="17.03" font-size="4.3" text-anchor="end" fill="#000">50</text>
<line x1="-0.8" y1="15.53" x2="0" y2="15.53" stroke="#666" stroke-width="0.3"/>
<text x="-0.4" y="22.73" font-size="4.3" text-anchor="end" fill="#000">70</text>
<line x1="-0.8" y1="21.23" x2="0" y2="21.23" stroke="#666" stroke-width="0.3"/>
<text x="-0.4" y="28.78" font-size="4.3" text-anchor="end" fill="#000">100</text>
<line x1="-0.8" y1="27.28" x2="0" y2="27.28" stroke="#666" stroke-width="0.3"/>
<text x="-0.4" y="40.52" font-size="4.3" text-anchor="end" fill="#000">200</text>
<line x1="-0.8" y1="39.02" x2="0" y2="39.02" stroke="#666" stroke-width="0.3"/>
<text x="-0.4" y="47.40" font-size="4.3" text-anchor="end" fill="#000">300</text>
<line x1="-0.8" y1="45.90" x2="0" y2="45.90" stroke="#666" stroke-width="0.3"/>
<text x="-0.4" y="56.05" font-size="4.3" text-anchor="end" fill="#000">500</text>
<line x1="-0.8" y1="54.55" x2="0" y2="54.55" stroke="#666" stroke-width="0.3"/>
<text x="-0.4" y="61.76" font-size="4.3" text-anchor="end" fill="#000">700</text>
<line x1="-0.8" y1="60.26" x2="0" y2="60.26" stroke="#666" stroke-width="0.3"/>
<text x="-0.4" y="67.80" font-size="4.3" text-anchor="end" fill="#000">1000</text>
<line x1="-0.8" y1="66.30" x2="0" y2="66.30" stroke="#666" stroke-width="0.3"/>
<text x="21.07" y="70.10" font-size="3.9" text-anchor="middle" fill="#000">60 E</text>
<text x="41.63" y="70.10" font-size="3.9" text-anchor="middle" fill="#000">120 E</text>
<text x="62.20" y="70.10" font-size="3.9" text-anchor="middle" fill="#000">180</text>
<text x="82.77" y="70.10" font-size="3.9" text-anchor="middle" fill="#000">120 W</text>
<text x="103.33" y="70.10" font-size="3.9" text-anchor="middle" fill="#000">60 W</text>
</g>
<clipPath id="cd"><rect x="0" y="0" width="123.10" height="66.3"/></clipPath>
<text x="16.7" y="115.9" font-size="6.3" fill="#000" stroke="#000" stroke-width="0.05">(d) GISS-E2-2G, JJA</text>
<g transform="translate(14.6,117.1)">
<g clip-path="url(#cd)">
<linearGradient id="gd4" gradientUnits="userSpaceOnUse" x1="0" y1="0.0" x2="0" y2="25.400000000000006"><stop offset="0.0000" stop-color="#3c51c4"/><stop offset="0.2047" stop-color="#4a62d0"/><stop offset="0.2441" stop-color="#6a8ae8"/><stop offset="0.2795" stop-color="#a4c0fa"/><stop offset="0.3110" stop-color="#e2c8c0"/><stop offset="0.3346" stop-color="#f09a7e"/><stop offset="0.3661" stop-color="#c62a30"/><stop offset="0.3898" stop-color="#b90c26"/><stop offset="0.8228" stop-color="#b80c27"/><stop offset="0.8622" stop-color="#d04840"/><stop offset="0.9134" stop-color="#f0ae96"/><stop offset="0.9803" stop-color="#fbe6dc"/><stop offset="1.0000" stop-color="#ffffff"/></linearGradient>
<rect x="0.00" y="0.00" width="123.10" height="25.40" fill="url(#gd4)" opacity="1"/>
<ellipse cx="51.00" cy="23.00" rx="6.00" ry="1.80" fill="#fbe3da" stroke="none" stroke-width="0.55" opacity="1"/>
<path d="M0,4.0 H123" fill="none" stroke="#444444" stroke-width="0.45" stroke-dasharray="0.9 0.7" opacity="1" stroke-linejoin="round"/>
<path d="M0.00,10.40 C3.33,10.40 14.17,10.38 20.00,10.40 C25.83,10.42 30.83,10.07 35.00,10.50 C39.17,10.93 42.50,11.92 45.00,13.00 C47.50,14.08 47.50,16.30 50.00,17.00 C52.50,17.70 55.00,17.17 60.00,17.20 C65.00,17.23 73.83,17.23 80.00,17.20 C86.17,17.17 92.83,17.78 97.00,17.00 C101.17,16.22 102.50,13.50 105.00,12.50 C107.50,11.50 108.98,11.33 112.00,11.00 C115.02,10.67 121.25,10.58 123.10,10.50" fill="none" stroke="#444444" stroke-width="0.5" stroke-dasharray="0.9 0.7" opacity="1" stroke-linejoin="round"/>
<path d="M17.40,23.30 C19.23,22.23 25.40,22.47 29.40,22.50 C33.40,22.53 39.57,22.43 41.40,23.50 C43.23,24.57 41.73,27.17 40.40,28.90 C39.07,30.63 36.23,33.03 33.40,33.90 C30.57,34.77 25.90,34.93 23.40,34.10 C20.90,33.27 19.40,30.70 18.40,28.90 C17.40,27.10 15.57,24.37 17.40,23.30Z" fill="#f4b8a0" stroke="none" stroke-width="0.5" opacity="0.85" stroke-linejoin="round"/>
<path d="M21.40,23.30 C22.40,22.38 28.73,22.72 31.40,22.90 C34.07,23.08 37.07,23.48 37.40,24.40 C37.73,25.32 35.40,27.73 33.40,28.40 C31.40,29.07 27.40,29.25 25.40,28.40 C23.40,27.55 20.40,24.22 21.40,23.30Z" fill="#eea086" stroke="none" stroke-width="0.5" opacity="0.8" stroke-linejoin="round"/>
<rect x="36.60" y="36.50" width="3.60" height="6.00" fill="#f5c4b0" opacity="1"/>
<rect x="22.20" y="43.10" width="6.00" height="2.40" fill="#f8d4c4" opacity="1"/>
<rect x="37.80" y="40.90" width="2.60" height="2.00" fill="#f0b49c" opacity="1"/>
<path d="M13.40,59.90 C14.23,58.78 16.68,59.25 18.40,59.50 C20.12,59.75 22.82,60.28 23.70,61.40 C24.58,62.52 25.42,65.40 23.70,66.20 C21.98,67.00 15.12,67.25 13.40,66.20 C11.68,65.15 12.57,61.02 13.40,59.90Z" fill="#cfd3da" stroke="none" stroke-width="0.5" opacity="1" stroke-linejoin="round"/>
<ellipse cx="19.40" cy="60.50" rx="2.00" ry="1.30" fill="none" stroke="#9fb8e2" stroke-width="0.35" opacity="1"/>
<path d="M25.00,57.90 C25.50,56.90 28.12,56.65 29.40,56.90 C30.68,57.15 32.45,58.33 32.70,59.40 C32.95,60.47 31.95,62.72 30.90,63.30 C29.85,63.88 27.38,63.80 26.40,62.90 C25.42,62.00 24.50,58.90 25.00,57.90Z" fill="none" stroke="#9fb8e2" stroke-width="0.35" opacity="1" stroke-linejoin="round"/>
<ellipse cx="26.90" cy="60.10" rx="0.90" ry="0.50" fill="#222" stroke="none" stroke-width="0.55" opacity="1"/>
<path d="M104.20,60.10 C105.07,58.97 108.33,58.93 109.40,59.40 C110.47,59.87 110.40,61.77 110.60,62.90 C110.80,64.03 111.67,65.65 110.60,66.20 C109.53,66.75 105.27,67.22 104.20,66.20 C103.13,65.18 103.33,61.23 104.20,60.10Z" fill="#d3d7de" stroke="none" stroke-width="0.5" opacity="1" stroke-linejoin="round"/>
<path d="M-0.60,25.70 C-1.48,24.13 4.00,24.90 6.60,24.50 C9.20,24.10 11.20,23.60 15.00,23.30 C18.80,23.00 24.40,22.30 29.40,22.70 C34.40,23.10 41.60,23.80 45.00,25.70 C48.40,27.60 49.80,31.50 49.80,34.10 C49.80,36.70 47.40,39.30 45.00,41.30 C42.60,43.30 39.00,45.20 35.40,46.10 C31.80,47.00 27.00,47.70 23.40,46.70 C19.80,45.70 15.72,42.23 13.80,40.10 C11.88,37.97 14.30,36.30 11.90,33.90 C9.50,31.50 0.28,27.27 -0.60,25.70Z" fill="none" stroke="#444444" stroke-width="0.45" opacity="1" stroke-linejoin="round"/>
<path d="M17.40,30.50 C18.60,28.40 22.40,25.90 25.80,25.10 C29.20,24.30 35.00,24.40 37.80,25.70 C40.60,27.00 42.60,30.50 42.60,32.90 C42.60,35.30 40.60,38.60 37.80,40.10 C35.00,41.60 29.00,42.30 25.80,41.90 C22.60,41.50 20.00,39.60 18.60,37.70 C17.20,35.80 16.20,32.60 17.40,30.50Z" fill="none" stroke="#444444" stroke-width="0.45" opacity="1" stroke-linejoin="round"/>
<path d="M19.80,32.90 C20.90,31.60 24.40,28.70 27.00,28.10 C29.60,27.50 33.60,28.30 35.40,29.30 C37.20,30.30 38.20,32.60 37.80,34.10 C37.40,35.60 35.20,37.50 33.00,38.30 C30.80,39.10 26.70,39.30 24.60,38.90 C22.50,38.50 21.20,36.90 20.40,35.90 C19.60,34.90 18.70,34.20 19.80,32.90Z" fill="none" stroke="#444444" stroke-width="0.45" opacity="1" stroke-linejoin="round"/>
<path d="M23.40,34.10 C24.10,33.30 27.60,31.70 29.40,31.70 C31.20,31.70 34.00,33.30 34.20,34.10 C34.40,34.90 32.10,36.10 30.60,36.50 C29.10,36.90 26.40,36.90 25.20,36.50 C24.00,36.10 22.70,34.90 23.40,34.10Z" fill="none" stroke="#444444" stroke-width="0.45" opacity="1" stroke-linejoin="round"/>
<path d="M-0.60,29.30 C0.60,29.40 4.60,29.30 6.60,29.90 C8.60,30.50 9.80,31.60 11.40,32.90 C13.00,34.20 14.80,35.70 16.20,37.70 C17.60,39.70 17.60,43.30 19.80,44.90 C22.00,46.50 25.63,47.30 29.40,47.30 C33.17,47.30 38.40,46.47 42.40,44.90 C46.40,43.33 50.57,39.50 53.40,37.90 C56.23,36.30 57.40,36.80 59.40,35.30 C61.40,33.80 63.40,30.80 65.40,28.90 C67.40,27.00 70.40,24.73 71.40,23.90" fill="none" stroke="#444444" stroke-width="0.45" opacity="1" stroke-linejoin="round"/>
<path d="M37.80,23.30 C39.60,23.77 46.40,23.30 48.60,26.10 C50.80,28.90 52.20,36.37 51.00,40.10 C49.80,43.83 45.00,46.37 41.40,48.50 C37.80,50.63 31.40,52.17 29.40,52.90" fill="none" stroke="#444444" stroke-width="0.45" stroke-dasharray="0.9 0.7" opacity="1" stroke-linejoin="round"/>
<path d="M0.40,32.90 C1.07,31.90 3.37,31.98 4.40,32.40 C5.43,32.82 6.60,34.32 6.60,35.40 C6.60,36.48 5.43,38.40 4.40,38.90 C3.37,39.40 1.07,39.40 0.40,38.40 C-0.27,37.40 -0.27,33.90 0.40,32.90Z" fill="none" stroke="#444444" stroke-width="0.45" opacity="1" stroke-linejoin="round"/>
<path d="M14.40,25.90 C16.90,24.37 22.57,23.87 27.40,23.70 C32.23,23.53 40.07,23.20 43.40,24.90 C46.73,26.60 47.73,30.90 47.40,33.90 C47.07,36.90 44.73,41.07 41.40,42.90 C38.07,44.73 31.73,45.40 27.40,44.90 C23.07,44.40 17.90,41.90 15.40,39.90 C12.90,37.90 12.57,35.23 12.40,32.90 C12.23,30.57 11.90,27.43 14.40,25.90Z" fill="none" stroke="#e58a7c" stroke-width="0.35" opacity="1" stroke-linejoin="round"/>
<path d="M18.40,31.40 C19.07,29.08 22.73,27.00 26.40,26.50 C30.07,26.00 38.07,26.92 40.40,28.40 C42.73,29.88 41.57,33.48 40.40,35.40 C39.23,37.32 36.40,39.07 33.40,39.90 C30.40,40.73 24.90,41.82 22.40,40.40 C19.90,38.98 17.73,33.72 18.40,31.40Z" fill="none" stroke="#e58a7c" stroke-width="0.35" opacity="1" stroke-linejoin="round"/>
<path d="M8.00,41.90 C8.90,42.73 11.42,45.57 13.40,46.90 C15.38,48.23 16.90,49.65 19.90,49.90 C22.90,50.15 28.48,48.90 31.40,48.40 C34.32,47.90 35.90,47.82 37.40,46.90 C38.90,45.98 39.90,43.57 40.40,42.90" fill="none" stroke="#e58a7c" stroke-width="0.35" opacity="1" stroke-linejoin="round"/>
<path d="M55.40,24.90 C56.07,26.23 59.40,29.90 59.40,32.90 C59.40,35.90 57.07,40.23 55.40,42.90 C53.73,45.57 50.40,47.90 49.40,48.90" fill="none" stroke="#e58a7c" stroke-width="0.35" opacity="1" stroke-linejoin="round"/>
<path d="M48.60,33.40 C49.10,32.87 51.20,32.73 52.40,32.90 C53.60,33.07 55.63,33.80 55.80,34.40 C55.97,35.00 54.47,36.22 53.40,36.50 C52.33,36.78 50.20,36.62 49.40,36.10 C48.60,35.58 48.10,33.93 48.60,33.40Z" fill="none" stroke="#9fb8e2" stroke-width="0.35" opacity="1" stroke-linejoin="round"/>
<path d="M75.40,50.90 C74.40,49.90 70.80,46.63 69.40,44.90 C68.00,43.17 67.20,43.03 67.00,40.50 C66.80,37.97 66.80,32.50 68.20,29.70 C69.60,26.90 72.80,24.90 75.40,23.70 C78.00,22.50 79.63,22.77 83.80,22.50 C87.97,22.23 93.85,22.12 100.40,22.10 C106.95,22.08 119.32,22.35 123.10,22.40" fill="none" stroke="#444444" stroke-width="0.45" opacity="1" stroke-linejoin="round"/>
<path d="M81.40,36.90 C80.40,34.30 80.40,31.70 81.40,29.70 C82.40,27.70 84.40,25.90 87.40,24.90 C90.40,23.90 95.00,23.50 99.40,23.70 C103.80,23.90 110.20,24.50 113.80,26.10 C117.40,27.70 120.60,30.50 121.00,33.30 C121.40,36.10 119.80,40.70 116.20,42.90 C112.60,45.10 104.20,46.10 99.40,46.50 C94.60,46.90 90.40,46.90 87.40,45.30 C84.40,43.70 82.40,39.50 81.40,36.90Z" fill="none" stroke="#444444" stroke-width="0.45" opacity="1" stroke-linejoin="round"/>
<path d="M86.20,34.50 C86.20,32.70 86.40,30.00 88.60,28.50 C90.80,27.00 95.60,25.50 99.40,25.50 C103.20,25.50 108.60,27.00 111.40,28.50 C114.20,30.00 116.20,32.30 116.20,34.50 C116.20,36.70 114.60,40.30 111.40,41.70 C108.20,43.10 100.80,43.30 97.00,42.90 C93.20,42.50 90.40,40.70 88.60,39.30 C86.80,37.90 86.20,36.30 86.20,34.50Z" fill="none" stroke="#444444" stroke-width="0.45" opacity="1" stroke-linejoin="round"/>
<path d="M91.00,33.30 C91.40,32.00 92.80,30.00 94.60,29.10 C96.40,28.20 99.20,27.70 101.80,27.90 C104.40,28.10 108.40,29.00 110.20,30.30 C112.00,31.60 113.00,34.10 112.60,35.70 C112.20,37.30 110.20,39.10 107.80,39.90 C105.40,40.70 100.80,41.00 98.20,40.50 C95.60,40.00 93.40,38.10 92.20,36.90 C91.00,35.70 90.60,34.60 91.00,33.30Z" fill="none" stroke="#444444" stroke-width="0.45" opacity="1" stroke-linejoin="round"/>
<path d="M94.60,33.30 C95.00,32.20 97.40,30.60 99.40,30.30 C101.40,30.00 105.00,30.70 106.60,31.50 C108.20,32.30 109.40,34.00 109.00,35.10 C108.60,36.20 106.20,37.80 104.20,38.10 C102.20,38.40 98.60,37.70 97.00,36.90 C95.40,36.10 94.20,34.40 94.60,33.30Z" fill="none" stroke="#444444" stroke-width="0.45" opacity="1" stroke-linejoin="round"/>
<ellipse cx="100.60" cy="34.50" rx="1.40" ry="0.80" fill="#444" stroke="none" stroke-width="0.55" opacity="1"/>
<path d="M67.00,40.90 C68.30,41.75 70.73,44.72 74.80,46.00 C78.87,47.28 85.97,48.45 91.40,48.60 C96.83,48.75 103.60,48.18 107.40,46.90 C111.20,45.62 113.07,41.90 114.20,40.90" fill="none" stroke="#444444" stroke-width="0.45" opacity="1" stroke-linejoin="round"/>
<path d="M56.40,29.70 C58.23,30.73 64.13,34.70 67.40,35.90 C70.67,37.10 73.33,35.93 76.00,36.90 C78.67,37.87 81.00,40.87 83.40,41.70 C85.80,42.53 89.23,41.87 90.40,41.90" fill="none" stroke="#9fb8e2" stroke-width="0.35" opacity="1" stroke-linejoin="round"/>
<path d="M18.60,46.00 C21.17,47.18 28.67,51.82 34.00,53.10 C39.33,54.38 46.12,52.97 50.60,53.70 C55.08,54.43 58.60,56.30 60.90,57.50 C63.20,58.70 63.37,59.45 64.40,60.90 C65.43,62.35 66.65,65.32 67.10,66.20" fill="none" stroke="#444444" stroke-width="0.45" opacity="1" stroke-linejoin="round"/>
<path d="M76.00,55.00 C79.63,55.00 93.32,55.53 97.80,55.00 C102.28,54.47 99.70,52.23 102.90,51.80 C106.10,51.37 113.63,51.72 117.00,52.40 C120.37,53.08 122.08,55.32 123.10,55.90" fill="none" stroke="#444444" stroke-width="0.45" opacity="1" stroke-linejoin="round"/>
<path d="M76.00,63.90 C78.13,63.05 84.73,61.17 88.80,60.10 C92.87,59.03 96.97,57.72 100.40,57.50 C103.83,57.28 107.70,57.93 109.40,58.80 C111.10,59.67 111.88,61.63 110.60,62.70 C109.32,63.77 105.40,65.25 101.70,65.20 C98.00,65.15 92.68,62.40 88.40,62.40 C84.12,62.40 78.07,64.95 76.00,65.20 C73.93,65.45 73.87,64.75 76.00,63.90Z" fill="none" stroke="#444444" stroke-width="0.45" opacity="1" stroke-linejoin="round"/>
<path d="M76.40,63.40 C78.57,62.98 85.90,61.38 89.40,60.90 C92.90,60.42 94.32,60.40 97.40,60.50 C100.48,60.60 106.15,61.33 107.90,61.50" fill="none" stroke="#444444" stroke-width="0.4" opacity="1" stroke-linejoin="round"/>
<path d="M0.70,51.10 C2.18,49.53 7.58,49.85 9.60,50.50 C11.62,51.15 13.22,53.40 12.80,55.00 C12.38,56.60 9.12,59.28 7.10,60.10 C5.08,60.92 1.77,61.40 0.70,59.90 C-0.37,58.40 -0.78,52.67 0.70,51.10Z" fill="none" stroke="#444444" stroke-width="0.45" opacity="1" stroke-linejoin="round"/>
<path d="M29,66.3 L30,64 L31,66.3Z" fill="#333" stroke="#444444" stroke-width="0.55" opacity="1" stroke-linejoin="round"/>
</g>
<rect x="0" y="0" width="123.10" height="66.3" fill="none" stroke="#d0d0d0" stroke-width="0.5"/>
<text x="-0.4" y="1.50" font-size="4.3" text-anchor="end" fill="#000">20</text>
<line x1="-0.8" y1="0.00" x2="0" y2="0.00" stroke="#666" stroke-width="0.3"/>
<text x="-0.4" y="8.37" font-size="4.3" text-anchor="end" fill="#000">30</text>
<line x1="-0.8" y1="6.87" x2="0" y2="6.87" stroke="#666" stroke-width="0.3"/>
<text x="-0.4" y="17.03" font-size="4.3" text-anchor="end" fill="#000">50</text>
<line x1="-0.8" y1="15.53" x2="0" y2="15.53" stroke="#666" stroke-width="0.3"/>
<text x="-0.4" y="22.73" font-size="4.3" text-anchor="end" fill="#000">70</text>
<line x1="-0.8" y1="21.23" x2="0" y2="21.23" stroke="#666" stroke-width="0.3"/>
<text x="-0.4" y="28.78" font-size="4.3" text-anchor="end" fill="#000">100</text>
<line x1="-0.8" y1="27.28" x2="0" y2="27.28" stroke="#666" stroke-width="0.3"/>
<text x="-0.4" y="40.52" font-size="4.3" text-anchor="end" fill="#000">200</text>
<line x1="-0.8" y1="39.02" x2="0" y2="39.02" stroke="#666" stroke-width="0.3"/>
<text x="-0.4" y="47.40" font-size="4.3" text-anchor="end" fill="#000">300</text>
<line x1="-0.8" y1="45.90" x2="0" y2="45.90" stroke="#666" stroke-width="0.3"/>
<text x="-0.4" y="56.05" font-size="4.3" text-anchor="end" fill="#000">500</text>
<line x1="-0.8" y1="54.55" x2="0" y2="54.55" stroke="#666" stroke-width="0.3"/>
<text x="-0.4" y="61.76" font-size="4.3" text-anchor="end" fill="#000">700</text>
<line x1="-0.8" y1="60.26" x2="0" y2="60.26" stroke="#666" stroke-width="0.3"/>
<text x="-0.4" y="67.80" font-size="4.3" text-anchor="end" fill="#000">1000</text>
<line x1="-0.8" y1="66.30" x2="0" y2="66.30" stroke="#666" stroke-width="0.3"/>
<text x="21.02" y="70.10" font-size="3.9" text-anchor="middle" fill="#000">60 E</text>
<text x="41.53" y="70.10" font-size="3.9" text-anchor="middle" fill="#000">120 E</text>
<text x="62.05" y="70.10" font-size="3.9" text-anchor="middle" fill="#000">180</text>
<text x="82.57" y="70.10" font-size="3.9" text-anchor="middle" fill="#000">120 W</text>
<text x="103.08" y="70.10" font-size="3.9" text-anchor="middle" fill="#000">60 W</text>
</g>
<clipPath id="ce"><rect x="0" y="0" width="122.50" height="66.3"/></clipPath>
<text x="154.1" y="115.7" font-size="6.3" fill="#000" stroke="#000" stroke-width="0.05">(e) LMDz, JJA</text>
<g transform="translate(152.9,117.1)">
<g clip-path="url(#ce)">
<linearGradient id="ge5" gradientUnits="userSpaceOnUse" x1="0" y1="0.0" x2="0" y2="29.400000000000006"><stop offset="0.0000" stop-color="#4660d2"/><stop offset="0.0986" stop-color="#5070dc"/><stop offset="0.1293" stop-color="#94b0f4"/><stop offset="0.1497" stop-color="#f0bca4"/><stop offset="0.1803" stop-color="#eea084"/><stop offset="0.2347" stop-color="#e67c62"/><stop offset="0.3197" stop-color="#de6652"/><stop offset="0.4728" stop-color="#d95c4a"/><stop offset="0.5748" stop-color="#dc6854"/><stop offset="0.6769" stop-color="#e6846a"/><stop offset="0.7789" stop-color="#eea086"/><stop offset="0.8639" stop-color="#f3b8a0"/><stop offset="0.9490" stop-color="#f8d8ca"/><stop offset="1.0000" stop-color="#ffffff"/></linearGradient>
<rect x="0.00" y="0.00" width="122.50" height="29.40" fill="url(#ge5)" opacity="1"/>
<path d="M62.00,12.50 C62.00,11.87 68.67,10.95 75.00,10.60 C81.33,10.25 91.92,10.37 100.00,10.40 C108.08,10.43 119.58,10.10 123.50,10.80 C127.42,11.50 127.42,13.97 123.50,14.60 C119.58,15.23 108.08,14.63 100.00,14.60 C91.92,14.57 81.33,14.75 75.00,14.40 C68.67,14.05 62.00,13.13 62.00,12.50Z" fill="#d24a40" stroke="none" stroke-width="0.5" opacity="0.8" stroke-linejoin="round"/>
<rect x="77.10" y="24.00" width="18.00" height="1.90" fill="#ffffff" opacity="1"/>
<path d="M0.00,24.50 C2.18,22.30 10.48,24.50 13.10,24.90 C15.72,25.30 15.27,24.70 15.70,26.90 C16.13,29.10 18.32,36.23 15.70,38.10 C13.08,39.97 2.62,40.37 0.00,38.10 C-2.62,35.83 -2.18,26.70 0.00,24.50Z" fill="#f5c2ac" stroke="none" stroke-width="0.5" opacity="1" stroke-linejoin="round"/>
<rect x="0.00" y="24.50" width="15.70" height="5.40" fill="#efa68c" opacity="0.45"/>
<path d="M22.10,26.60 C22.77,25.10 28.93,25.52 31.10,25.90 C33.27,26.28 34.77,27.57 35.10,28.90 C35.43,30.23 34.43,32.90 33.10,33.90 C31.77,34.90 28.93,36.12 27.10,34.90 C25.27,33.68 21.43,28.10 22.10,26.60Z" fill="#f3b49c" stroke="none" stroke-width="0.5" opacity="0.8" stroke-linejoin="round"/>
<rect x="15.70" y="26.60" width="2.60" height="6.30" fill="#ffffff" opacity="1"/>
<path d="M0,5.3 H123" fill="none" stroke="#444444" stroke-width="0.45" stroke-dasharray="0.9 0.7" opacity="1" stroke-linejoin="round"/>
<path d="M0,11.7 H123" fill="none" stroke="#444444" stroke-width="0.45" stroke-dasharray="0.9 0.7" opacity="1" stroke-linejoin="round"/>
<path d="M0.00,24.70 C2.85,24.65 11.75,24.50 17.10,24.40 C22.45,24.30 27.77,23.77 32.10,24.10 C36.43,24.43 38.60,25.85 43.10,26.40 C47.60,26.95 53.43,27.32 59.10,27.40 C64.77,27.48 66.43,26.98 77.10,26.90 C87.77,26.82 115.43,26.90 123.10,26.90" fill="none" stroke="#444444" stroke-width="0.45" stroke-dasharray="0.9 0.7" opacity="1" stroke-linejoin="round"/>
<path d="M60.4,20.8 H64.2" fill="none" stroke="#444444" stroke-width="0.9" opacity="1" stroke-linejoin="round"/>
<path d="M80.90,32.90 C82.60,31.82 89.40,31.82 91.10,32.90 C92.80,33.98 92.80,38.32 91.10,39.40 C89.40,40.48 82.60,40.48 80.90,39.40 C79.20,38.32 79.20,33.98 80.90,32.90Z" fill="#c2d2ee" stroke="none" stroke-width="0.5" opacity="1" stroke-linejoin="round"/>
<path d="M91.70,41.90 C92.13,41.25 93.87,41.25 94.30,41.90 C94.73,42.55 94.73,45.15 94.30,45.80 C93.87,46.45 92.13,46.45 91.70,45.80 C91.27,45.15 91.27,42.55 91.70,41.90Z" fill="#b7c9ec" stroke="none" stroke-width="0.5" opacity="1" stroke-linejoin="round"/>
<path d="M37.50,58.20 C39.22,57.67 46.08,57.67 47.80,58.20 C49.52,58.73 49.52,60.87 47.80,61.40 C46.08,61.93 39.22,61.93 37.50,61.40 C35.78,60.87 35.78,58.73 37.50,58.20Z" fill="#c9d7ee" stroke="none" stroke-width="0.5" opacity="1" stroke-linejoin="round"/>
<path d="M19.60,53.70 C20.02,53.27 21.68,53.27 22.10,53.70 C22.52,54.13 22.52,55.87 22.10,56.30 C21.68,56.73 20.02,56.73 19.60,56.30 C19.18,55.87 19.18,54.13 19.60,53.70Z" fill="#c9d7ee" stroke="none" stroke-width="0.5" opacity="1" stroke-linejoin="round"/>
<path d="M18.30,27.90 C16.13,28.63 16.67,32.17 17.10,34.30 C17.53,36.43 19.00,39.53 20.90,40.70 C22.80,41.87 26.17,42.17 28.50,41.30 C30.83,40.43 33.62,37.53 34.90,35.50 C36.18,33.47 36.83,30.70 36.20,29.10 C35.57,27.50 33.02,26.32 31.10,25.90 C29.18,25.48 26.20,25.63 24.70,26.60 C23.20,27.57 21.88,29.98 22.10,31.70 C22.32,33.42 24.72,36.47 26.00,36.90 C27.28,37.33 29.12,35.47 29.80,34.30 C30.48,33.13 32.02,30.97 30.10,29.90 C28.18,28.83 20.47,27.17 18.30,27.90Z" fill="none" stroke="#444444" stroke-width="0.5" opacity="1" stroke-linejoin="round"/>
<path d="M14.50,29.10 C14.70,31.23 13.57,39.12 15.70,41.90 C17.83,44.68 23.67,46.22 27.30,45.80 C30.93,45.38 35.80,42.38 37.50,39.40 C39.20,36.42 37.50,29.82 37.50,27.90" fill="none" stroke="#444444" stroke-width="0.45" stroke-dasharray="0.9 0.7" opacity="1" stroke-linejoin="round"/>
<path d="M50.30,34.30 C50.93,32.90 52.60,32.53 54.10,32.30 C55.60,32.07 58.22,31.93 59.30,32.90 C60.38,33.87 61.25,36.38 60.60,38.10 C59.95,39.82 57.12,42.77 55.40,43.20 C53.68,43.63 51.15,42.18 50.30,40.70 C49.45,39.22 49.67,35.70 50.30,34.30Z" fill="none" stroke="#444444" stroke-width="0.5" opacity="1" stroke-linejoin="round"/>
<path d="M93.70,26.60 C94.55,25.43 97.97,24.70 100.10,24.70 C102.23,24.70 104.58,25.00 106.50,26.60 C108.42,28.20 110.97,31.75 111.60,34.30 C112.23,36.85 112.00,39.98 110.30,41.90 C108.60,43.82 103.95,45.15 101.40,45.80 C98.85,46.45 96.28,47.08 95.00,45.80 C93.72,44.52 93.70,40.45 93.70,38.10 C93.70,35.75 95.00,33.62 95.00,31.70 C95.00,29.78 92.85,27.77 93.70,26.60Z" fill="none" stroke="#444444" stroke-width="0.6" opacity="1" stroke-linejoin="round"/>
<path d="M101.40,30.30 C101.48,29.88 102.98,29.63 103.60,29.80 C104.22,29.97 105.18,30.88 105.10,31.30 C105.02,31.72 103.72,32.47 103.10,32.30 C102.48,32.13 101.32,30.72 101.40,30.30Z" fill="none" stroke="#444444" stroke-width="0.45" opacity="1" stroke-linejoin="round"/>
<path d="M75.70,30.40 C78.27,28.93 87.45,27.85 91.10,29.10 C94.75,30.35 96.77,34.70 97.60,37.90 C98.43,41.10 98.25,46.87 96.10,48.30 C93.95,49.73 88.10,48.23 84.70,46.50 C81.30,44.77 77.20,40.58 75.70,37.90 C74.20,35.22 73.13,31.87 75.70,30.40Z" fill="none" stroke="#9fb8e2" stroke-width="0.35" opacity="1" stroke-linejoin="round"/>
<path d="M72.10,27.40 C76.10,24.98 90.60,24.48 95.10,26.40 C99.60,28.32 98.60,34.82 99.10,38.90 C99.60,42.98 101.10,48.90 98.10,50.90 C95.10,52.90 85.60,52.57 81.10,50.90 C76.60,49.23 72.60,44.82 71.10,40.90 C69.60,36.98 68.10,29.82 72.10,27.40Z" fill="none" stroke="#9fb8e2" stroke-width="0.35" opacity="1" stroke-linejoin="round"/>
<path d="M51.60,35.40 C51.77,34.32 55.02,33.98 56.10,34.40 C57.18,34.82 58.27,36.82 58.10,37.90 C57.93,38.98 56.18,41.32 55.10,40.90 C54.02,40.48 51.43,36.48 51.60,35.40Z" fill="none" stroke="#9fb8e2" stroke-width="0.35" opacity="1" stroke-linejoin="round"/>
<path d="M66.80,29.10 C66.18,31.40 63.10,40.00 63.10,42.90 C63.10,45.80 64.27,45.60 66.80,46.50 C69.33,47.40 76.38,48.00 78.30,48.30" fill="none" stroke="#444444" stroke-width="0.45" opacity="1" stroke-linejoin="round"/>
<path d="M41.40,47.10 C41.57,44.77 43.82,37.68 45.10,34.90 C46.38,32.12 48.77,29.40 49.10,30.40 C49.43,31.40 47.93,37.82 47.10,40.90 C46.27,43.98 45.05,47.87 44.10,48.90 C43.15,49.93 41.23,49.43 41.40,47.10Z" fill="none" stroke="#e58a7c" stroke-width="0.35" opacity="1" stroke-linejoin="round"/>
<path d="M0.00,40.90 C1.52,41.57 5.42,43.73 9.10,44.90 C12.78,46.07 17.43,48.23 22.10,47.90 C26.77,47.57 32.93,43.40 37.10,42.90 C41.27,42.40 45.43,44.57 47.10,44.90" fill="none" stroke="#e58a7c" stroke-width="0.35" opacity="1" stroke-linejoin="round"/>
<path d="M109.10,27.90 C110.10,29.23 113.77,33.07 115.10,35.90 C116.43,38.73 115.77,43.07 117.10,44.90 C118.43,46.73 122.10,46.57 123.10,46.90" fill="none" stroke="#e58a7c" stroke-width="0.35" opacity="1" stroke-linejoin="round"/>
<path d="M105.10,42.90 C106.43,43.73 110.10,46.57 113.10,47.90 C116.10,49.23 121.43,50.40 123.10,50.90" fill="none" stroke="#e58a7c" stroke-width="0.35" opacity="1" stroke-linejoin="round"/>
<rect x="70.10" y="49.90" width="2.00" height="1.30" fill="#f3b4a4" opacity="1"/>
<path d="M0.00,38.10 C1.98,39.20 7.78,43.17 11.90,44.70 C16.02,46.23 20.85,45.90 24.70,47.30 C28.55,48.70 31.15,52.03 35.00,53.10 C38.85,54.17 44.18,53.82 47.80,53.70 C51.42,53.58 54.82,52.40 56.70,52.40 C58.58,52.40 57.85,51.40 59.10,53.70 C60.35,56.00 63.35,64.12 64.20,66.20" fill="none" stroke="#444444" stroke-width="0.45" opacity="1" stroke-linejoin="round"/>
<path d="M63.10,40.90 C64.57,41.75 67.67,43.87 71.90,46.00 C76.13,48.13 83.17,51.98 88.50,53.70 C93.83,55.42 99.13,55.77 103.90,56.30 C108.67,56.83 113.90,56.90 117.10,56.90 C120.30,56.90 122.10,56.40 123.10,56.30" fill="none" stroke="#444444" stroke-width="0.45" opacity="1" stroke-linejoin="round"/>
<path d="M91.10,60.10 C92.27,59.27 98.32,57.27 101.10,57.90 C103.88,58.53 108.13,62.68 107.80,63.90 C107.47,65.12 101.38,65.37 99.10,65.20 C96.82,65.03 95.43,63.75 94.10,62.90 C92.77,62.05 89.93,60.93 91.10,60.10Z" fill="none" stroke="#444444" stroke-width="0.45" opacity="1" stroke-linejoin="round"/>
<path d="M0.00,52.40 C2.02,51.10 7.98,50.63 12.10,50.10 C16.22,49.57 20.20,48.60 24.70,49.20 C29.20,49.80 34.40,52.75 39.10,53.70 C43.80,54.65 50.18,53.40 52.90,54.90 C55.62,56.40 56.37,61.03 55.40,62.70 C54.43,64.37 51.15,65.28 47.10,64.90 C43.05,64.52 36.33,61.20 31.10,60.40 C25.87,59.60 20.88,60.52 15.70,60.10 C10.52,59.68 2.62,59.18 0.00,57.90 C-2.62,56.62 -2.02,53.70 0.00,52.40Z" fill="none" stroke="#9fb8e2" stroke-width="0.35" opacity="1" stroke-linejoin="round"/>
<path d="M111.60,57.90 C112.10,57.25 115.82,57.17 117.10,57.50 C118.38,57.83 119.80,59.25 119.30,59.90 C118.80,60.55 115.38,61.73 114.10,61.40 C112.82,61.07 111.10,58.55 111.60,57.90Z" fill="none" stroke="#9fb8e2" stroke-width="0.35" opacity="1" stroke-linejoin="round"/>
<path d="M0.00,54.40 C0.83,53.90 6.75,55.15 7.10,55.90 C7.45,56.65 3.28,59.15 2.10,58.90 C0.92,58.65 -0.83,54.90 0.00,54.40Z" fill="none" stroke="#444444" stroke-width="0.45" opacity="1" stroke-linejoin="round"/>
<path d="M9.299999999999983,66.3 L11.599999999999994,64.6 L13.599999999999994,65.1 L15.699999999999989,66.3Z" fill="#222" stroke="#444444" stroke-width="0.55" opacity="1" stroke-linejoin="round"/>
<path d="M95.6,66.3 L96.29999999999998,61.400000000000006 L98.79999999999998,64.9 L99.6,66.3Z" fill="#222" stroke="#444444" stroke-width="0.55" opacity="1" stroke-linejoin="round"/>
</g>
<rect x="0" y="0" width="122.50" height="66.3" fill="none" stroke="#d0d0d0" stroke-width="0.5"/>
<text x="-0.4" y="1.50" font-size="4.3" text-anchor="end" fill="#000">20</text>
<line x1="-0.8" y1="0.00" x2="0" y2="0.00" stroke="#666" stroke-width="0.3"/>
<text x="-0.4" y="8.37" font-size="4.3" text-anchor="end" fill="#000">30</text>
<line x1="-0.8" y1="6.87" x2="0" y2="6.87" stroke="#666" stroke-width="0.3"/>
<text x="-0.4" y="17.03" font-size="4.3" text-anchor="end" fill="#000">50</text>
<line x1="-0.8" y1="15.53" x2="0" y2="15.53" stroke="#666" stroke-width="0.3"/>
<text x="-0.4" y="22.73" font-size="4.3" text-anchor="end" fill="#000">70</text>
<line x1="-0.8" y1="21.23" x2="0" y2="21.23" stroke="#666" stroke-width="0.3"/>
<text x="-0.4" y="28.78" font-size="4.3" text-anchor="end" fill="#000">100</text>
<line x1="-0.8" y1="27.28" x2="0" y2="27.28" stroke="#666" stroke-width="0.3"/>
<text x="-0.4" y="40.52" font-size="4.3" text-anchor="end" fill="#000">200</text>
<line x1="-0.8" y1="39.02" x2="0" y2="39.02" stroke="#666" stroke-width="0.3"/>
<text x="-0.4" y="47.40" font-size="4.3" text-anchor="end" fill="#000">300</text>
<line x1="-0.8" y1="45.90" x2="0" y2="45.90" stroke="#666" stroke-width="0.3"/>
<text x="-0.4" y="56.05" font-size="4.3" text-anchor="end" fill="#000">500</text>
<line x1="-0.8" y1="54.55" x2="0" y2="54.55" stroke="#666" stroke-width="0.3"/>
<text x="-0.4" y="61.76" font-size="4.3" text-anchor="end" fill="#000">700</text>
<line x1="-0.8" y1="60.26" x2="0" y2="60.26" stroke="#666" stroke-width="0.3"/>
<text x="-0.4" y="67.80" font-size="4.3" text-anchor="end" fill="#000">1000</text>
<line x1="-0.8" y1="66.30" x2="0" y2="66.30" stroke="#666" stroke-width="0.3"/>
<text x="20.92" y="70.10" font-size="3.9" text-anchor="middle" fill="#000">60 E</text>
<text x="41.33" y="70.10" font-size="3.9" text-anchor="middle" fill="#000">120 E</text>
<text x="61.75" y="70.10" font-size="3.9" text-anchor="middle" fill="#000">180</text>
<text x="82.17" y="70.10" font-size="3.9" text-anchor="middle" fill="#000">120 W</text>
<text x="102.58" y="70.10" font-size="3.9" text-anchor="middle" fill="#000">60 W</text>
</g>
<clipPath id="cf"><rect x="0" y="0" width="123.40" height="66.3"/></clipPath>
<text x="293.0" y="115.9" font-size="6.3" fill="#000" stroke="#000" stroke-width="0.05">(f) ECHAM5sh, JJA</text>
<g transform="translate(291.6,117.1)">
<g clip-path="url(#cf)">
<linearGradient id="gf6" gradientUnits="userSpaceOnUse" x1="0" y1="1.2000000000000028" x2="0" y2="27.900000000000006"><stop offset="0.0000" stop-color="#ffffff"/><stop offset="0.0225" stop-color="#dce6f4"/><stop offset="0.1760" stop-color="#d6e2f3"/><stop offset="0.2697" stop-color="#c8d8f0"/><stop offset="0.3483" stop-color="#c4d4ee"/><stop offset="0.3708" stop-color="#eeb4a6"/><stop offset="0.4120" stop-color="#f8dcd4"/><stop offset="0.4682" stop-color="#fcecea"/><stop offset="0.4981" stop-color="#ffffff"/><stop offset="0.5281" stop-color="#f8c8b4"/><stop offset="0.5581" stop-color="#f4a282"/><stop offset="0.7191" stop-color="#f39e7e"/><stop offset="0.7753" stop-color="#f5b49a"/><stop offset="0.8502" stop-color="#f8cbb8"/><stop offset="0.9625" stop-color="#fbe4da"/><stop offset="1.0000" stop-color="#ffffff"/></linearGradient>
<rect x="0.00" y="1.20" width="123.40" height="26.70" fill="url(#gf6)" opacity="1"/>
<rect x="34.00" y="22.10" width="16.60" height="1.40" fill="#ffffff" opacity="1"/>
<rect x="73.20" y="21.50" width="20.50" height="2.50" fill="#ffffff" opacity="1"/>
<path d="M0,4.0 H124" fill="none" stroke="#444444" stroke-width="0.45" stroke-dasharray="0.9 0.7" opacity="1" stroke-linejoin="round"/>
<path d="M0,7.9 H124" fill="none" stroke="#444444" stroke-width="0.45" stroke-dasharray="0.9 0.7" opacity="1" stroke-linejoin="round"/>
<path d="M-0.60,21.46 C1.11,21.46 7.51,21.03 9.64,21.46 C11.77,21.89 11.35,24.13 12.20,24.02 C13.05,23.91 11.13,21.42 14.76,20.82 C18.39,20.22 27.35,20.44 33.97,20.44 C40.59,20.44 50.19,20.22 54.46,20.82 C58.73,21.42 58.73,23.49 59.58,24.02" fill="none" stroke="#444444" stroke-width="0.45" stroke-dasharray="0.9 0.7" opacity="1" stroke-linejoin="round"/>
<path d="M60.40,24.02 C62.53,23.81 70.42,23.27 73.20,22.74 C75.97,22.21 74.91,21.14 77.05,20.82 C79.18,20.50 83.24,20.61 86.01,20.82 C88.78,21.03 90.28,22.10 93.69,22.10 C97.10,22.10 101.37,21.03 106.49,20.82 C111.61,20.61 121.43,20.82 124.42,20.82" fill="none" stroke="#444444" stroke-width="0.45" stroke-dasharray="0.9 0.7" opacity="1" stroke-linejoin="round"/>
<path d="M25.01,30.42 C25.22,29.67 27.78,28.39 28.85,28.50 C29.92,28.61 31.62,30.31 31.41,31.06 C31.20,31.81 28.64,33.09 27.57,32.98 C26.50,32.87 24.80,31.17 25.01,30.42Z" fill="none" stroke="#444444" stroke-width="0.45" opacity="1" stroke-linejoin="round"/>
<path d="M22.45,30.42 C23.09,29.14 26.72,26.69 28.85,26.58 C30.98,26.47 34.61,28.50 35.25,29.78 C35.89,31.06 34.40,33.51 32.69,34.26 C30.98,35.01 26.72,34.90 25.01,34.26 C23.30,33.62 21.81,31.70 22.45,30.42Z" fill="none" stroke="#444444" stroke-width="0.45" opacity="1" stroke-linejoin="round"/>
<path d="M19.89,31.70 C20.96,29.99 24.58,25.94 27.57,25.30 C30.56,24.66 36.10,26.15 37.81,27.86 C39.52,29.57 39.30,33.84 37.81,35.55 C36.32,37.26 31.62,38.11 28.85,38.11 C26.08,38.11 22.66,36.62 21.17,35.55 C19.68,34.48 18.82,33.41 19.89,31.70Z" fill="none" stroke="#444444" stroke-width="0.45" opacity="1" stroke-linejoin="round"/>
<path d="M18.61,32.98 C19.68,30.74 21.60,26.05 25.01,24.66 C28.42,23.27 35.89,23.06 39.09,24.66 C42.29,26.26 44.42,31.81 44.21,34.26 C44.00,36.72 40.80,38.22 37.81,39.39 C34.82,40.57 29.49,41.52 26.29,41.31 C23.09,41.10 19.89,39.50 18.61,38.11 C17.33,36.72 17.54,35.22 18.61,32.98Z" fill="none" stroke="#444444" stroke-width="0.45" opacity="1" stroke-linejoin="round"/>
<path d="M16.05,34.26 C16.90,31.59 18.82,26.58 22.45,24.66 C26.08,22.74 33.76,22.21 37.81,22.74 C41.87,23.27 45.07,25.30 46.78,27.86 C48.49,30.42 49.34,35.55 48.06,38.11 C46.78,40.67 42.93,42.16 39.09,43.23 C35.25,44.30 28.64,44.94 25.01,44.51 C21.38,44.08 18.82,42.38 17.33,40.67 C15.84,38.96 15.20,36.93 16.05,34.26Z" fill="none" stroke="#444444" stroke-width="0.45" opacity="1" stroke-linejoin="round"/>
<path d="M98.81,32.98 C99.66,31.91 102.65,30.63 105.21,30.42 C107.77,30.21 112.47,30.85 114.18,31.70 C115.89,32.56 116.31,34.48 115.46,35.55 C114.61,36.62 111.62,37.90 109.06,38.11 C106.50,38.32 101.80,37.69 100.09,36.83 C98.38,35.98 97.96,34.05 98.81,32.98Z" fill="none" stroke="#444444" stroke-width="0.45" opacity="1" stroke-linejoin="round"/>
<path d="M92.41,34.26 C92.62,32.23 95.61,29.03 98.81,27.86 C102.01,26.69 108.21,26.58 111.62,27.22 C115.03,27.86 118.02,29.89 119.30,31.70 C120.58,33.52 120.58,36.51 119.30,38.11 C118.02,39.71 115.25,40.99 111.62,41.31 C107.99,41.63 100.73,41.20 97.53,40.03 C94.33,38.86 92.20,36.29 92.41,34.26Z" fill="none" stroke="#444444" stroke-width="0.45" opacity="1" stroke-linejoin="round"/>
<path d="M86.01,32.98 C86.44,30.21 89.42,27.97 93.69,26.58 C97.96,25.19 106.07,24.23 111.62,24.66 C117.17,25.09 124.21,26.90 126.98,29.14 C129.75,31.38 129.11,35.76 128.26,38.11 C127.41,40.46 125.06,42.16 121.86,43.23 C118.66,44.30 114.18,44.51 109.06,44.51 C103.94,44.51 94.97,45.15 91.13,43.23 C87.29,41.31 85.58,35.76 86.01,32.98Z" fill="none" stroke="#444444" stroke-width="0.45" opacity="1" stroke-linejoin="round"/>
<path d="M78.33,34.26 C78.76,31.27 82.17,28.29 86.01,26.58 C89.85,24.87 94.12,24.23 101.37,24.02 C108.62,23.81 124.42,22.31 129.54,25.30 C134.66,28.29 132.95,38.43 132.10,41.95 C131.25,45.47 129.97,45.58 124.42,46.43 C118.87,47.28 105.64,47.39 98.81,47.07 C91.98,46.75 86.86,46.65 83.45,44.51 C80.04,42.38 77.90,37.25 78.33,34.26Z" fill="none" stroke="#444444" stroke-width="0.45" opacity="1" stroke-linejoin="round"/>
<path d="M73.20,31.70 C73.84,28.61 75.34,27.43 79.61,25.94 C83.88,24.45 90.06,23.17 98.81,22.74 C107.56,22.31 125.70,19.75 132.10,23.38 C138.50,27.01 138.50,40.03 137.22,44.51 C135.94,48.99 131.89,49.42 124.42,50.27 C116.95,51.12 100.52,50.59 92.41,49.63 C84.30,48.67 78.96,47.50 75.76,44.51 C72.56,41.52 72.56,34.80 73.20,31.70Z" fill="none" stroke="#444444" stroke-width="0.45" opacity="1" stroke-linejoin="round"/>
<path d="M68.08,49.63 C68.08,48.35 67.65,45.37 68.08,41.95 C68.51,38.54 68.72,32.13 70.64,29.14 C72.56,26.15 74.91,25.30 79.61,24.02 C84.30,22.74 91.34,21.89 98.81,21.46 C106.28,21.03 120.15,21.46 124.42,21.46" fill="none" stroke="#444444" stroke-width="0.45" opacity="1" stroke-linejoin="round"/>
<path d="M-0.60,29.14 C0.68,29.78 5.59,31.27 7.08,32.98 C8.57,34.69 9.00,37.47 8.36,39.39 C7.72,41.31 4.73,43.44 3.24,44.51 C1.75,45.58 0.04,45.58 -0.60,45.79" fill="none" stroke="#444444" stroke-width="0.45" opacity="1" stroke-linejoin="round"/>
<path d="M-0.60,26.58 C1.11,27.22 7.61,28.07 9.64,30.42 C11.67,32.77 12.41,37.79 11.56,40.67 C10.71,43.55 6.55,46.32 4.52,47.71 C2.49,49.10 0.25,48.78 -0.60,48.99" fill="none" stroke="#444444" stroke-width="0.45" opacity="1" stroke-linejoin="round"/>
<path d="M-0.60,31.70 C0.15,32.13 3.03,32.98 3.88,34.26 C4.73,35.54 4.95,38.00 4.52,39.39 C4.09,40.78 2.17,41.95 1.32,42.59 C0.47,43.23 -0.28,43.12 -0.60,43.23" fill="none" stroke="#444444" stroke-width="0.45" opacity="1" stroke-linejoin="round"/>
<path d="M32.69,26.58 C34.18,27.22 39.52,28.50 41.65,30.42 C43.78,32.34 44.42,35.34 45.49,38.11 C46.56,40.89 47.20,44.94 48.06,47.07 C48.92,49.20 50.19,50.27 50.62,50.91" fill="none" stroke="#9fb8e2" stroke-width="0.35" opacity="1" stroke-linejoin="round"/>
<path d="M35.25,24.02 C36.96,24.66 42.93,25.73 45.49,27.86 C48.05,30.00 49.34,34.06 50.62,36.83 C51.90,39.61 52.33,42.16 53.18,44.51 C54.03,46.86 55.31,49.84 55.74,50.91" fill="none" stroke="#9fb8e2" stroke-width="0.35" opacity="1" stroke-linejoin="round"/>
<path d="M30.13,31.70 C31.41,32.56 35.89,34.91 37.81,36.83 C39.73,38.75 40.80,40.88 41.65,43.23 C42.50,45.58 42.72,49.63 42.93,50.91" fill="none" stroke="#9fb8e2" stroke-width="0.35" opacity="1" stroke-linejoin="round"/>
<path d="M25.01,41.95 C26.29,42.59 30.56,44.30 32.69,45.79 C34.82,47.28 36.96,50.06 37.81,50.91" fill="none" stroke="#9fb8e2" stroke-width="0.35" opacity="1" stroke-linejoin="round"/>
<rect x="37.80" y="37.30" width="3.90" height="1.60" fill="#a9c0ec" opacity="1"/>
<path d="M49.34,22.74 C49.98,24.02 52.75,27.65 53.18,30.42 C53.61,33.20 51.47,36.62 51.90,39.39 C52.33,42.17 54.46,45.15 55.74,47.07 C57.02,48.99 58.94,50.27 59.58,50.91" fill="none" stroke="#e58a7c" stroke-width="0.35" opacity="1" stroke-linejoin="round"/>
<path d="M54.46,24.02 C55.31,25.09 58.94,27.65 59.58,30.42 C60.22,33.20 57.87,37.68 58.30,40.67 C58.73,43.66 61.50,47.07 62.14,48.35" fill="none" stroke="#e58a7c" stroke-width="0.35" opacity="1" stroke-linejoin="round"/>
<path d="M59.58,22.74 C60.22,23.38 62.78,25.94 63.42,26.58" fill="none" stroke="#e58a7c" stroke-width="0.35" opacity="1" stroke-linejoin="round"/>
<path d="M13.48,41.95 C14.23,41.48 17.75,41.26 18.61,41.69 C19.46,42.12 19.36,44.04 18.61,44.51 C17.86,44.98 14.98,44.94 14.12,44.51 C13.27,44.08 12.73,42.42 13.48,41.95Z" fill="none" stroke="#e58a7c" stroke-width="0.35" opacity="1" stroke-linejoin="round"/>
<path d="M60.40,25.30 C61.68,25.51 66.16,24.87 68.08,26.58 C70.00,28.29 71.92,32.56 71.92,35.55 C71.92,38.54 70.00,42.59 68.08,44.51 C66.16,46.43 61.68,46.64 60.40,47.07" fill="none" stroke="#e58a7c" stroke-width="0.35" opacity="1" stroke-linejoin="round"/>
<path d="M64.24,26.58 C65.31,27.86 70.21,31.27 70.64,34.26 C71.07,37.25 67.44,42.80 66.80,44.51" fill="none" stroke="#e58a7c" stroke-width="0.35" opacity="1" stroke-linejoin="round"/>
<path d="M79.61,31.70 C80.68,31.91 85.16,31.27 86.01,32.98 C86.86,34.69 85.58,40.67 84.73,41.95 C83.88,43.23 81.53,40.88 80.89,40.67" fill="none" stroke="#e58a7c" stroke-width="0.35" opacity="1" stroke-linejoin="round"/>
<path d="M14.76,49.86 C15.40,48.69 18.18,49.22 19.89,49.22 C21.60,49.22 23.30,48.90 25.01,49.86 C26.72,50.82 29.06,53.06 30.13,54.98 C31.20,56.90 32.26,60.00 31.41,61.39 C30.56,62.78 27.14,63.20 25.01,63.31 C22.88,63.42 20.10,63.20 18.61,62.03 C17.12,60.86 16.69,58.29 16.05,56.26 C15.41,54.23 14.12,51.03 14.76,49.86Z" fill="none" stroke="#444444" stroke-width="0.45" opacity="1" stroke-linejoin="round"/>
<path d="M18.61,48.58 C19.46,47.73 24.05,48.15 25.01,49.22 C25.97,50.29 25.22,54.13 24.37,54.98 C23.52,55.83 20.85,55.41 19.89,54.34 C18.93,53.27 17.76,49.43 18.61,48.58Z" fill="none" stroke="#e58a7c" stroke-width="0.35" opacity="1" stroke-linejoin="round"/>
<path d="M31.41,50.50 C32.69,50.29 36.10,52.31 37.81,53.70 C39.52,55.09 41.65,57.44 41.65,58.83 C41.65,60.22 39.30,61.82 37.81,62.03 C36.32,62.24 33.97,61.29 32.69,60.11 C31.41,58.94 30.34,56.58 30.13,54.98 C29.92,53.38 30.13,50.71 31.41,50.50Z" fill="none" stroke="#e58a7c" stroke-width="0.35" opacity="1" stroke-linejoin="round"/>
<path d="M-0.60,56.26 C0.68,55.47 5.80,56.05 7.08,56.91 C8.36,57.76 8.36,60.60 7.08,61.39 C5.80,62.18 0.68,62.50 -0.60,61.64 C-1.88,60.79 -1.88,57.05 -0.60,56.26Z" fill="none" stroke="#444444" stroke-width="0.45" opacity="1" stroke-linejoin="round"/>
<path d="M-0.60,47.94 C0.68,47.62 5.16,47.19 7.08,46.02 C9.00,44.85 10.28,41.75 10.92,40.90" fill="none" stroke="#444444" stroke-width="0.45" opacity="1" stroke-linejoin="round"/>
<path d="M17.33,40.90 C18.61,41.54 22.24,43.99 25.01,44.74 C27.78,45.49 30.56,45.17 33.97,45.38 C37.38,45.59 42.29,46.13 45.49,46.02 C48.69,45.91 50.19,44.63 53.18,44.74 C56.17,44.85 61.71,46.34 63.42,46.66" fill="none" stroke="#444444" stroke-width="0.45" opacity="1" stroke-linejoin="round"/>
<path d="M35.25,40.90 C36.74,42.39 42.07,46.87 44.21,49.86 C46.34,52.85 46.99,56.27 48.06,58.83 C49.13,61.39 50.19,64.16 50.62,65.23" fill="none" stroke="#9fb8e2" stroke-width="0.35" opacity="1" stroke-linejoin="round"/>
<path d="M53.18,48.58 C54.46,50.72 59.15,58.62 60.86,61.39 C62.57,64.17 62.99,64.59 63.42,65.23" fill="none" stroke="#9fb8e2" stroke-width="0.35" opacity="1" stroke-linejoin="round"/>
<path d="M-0.60,51.14 C0.25,51.35 3.24,51.35 4.52,52.42 C5.80,53.49 6.65,56.70 7.08,57.55" fill="none" stroke="#9fb8e2" stroke-width="0.35" opacity="1" stroke-linejoin="round"/>
<rect x="48.10" y="63.90" width="3.80" height="2.30" fill="#c0cfe8" opacity="1"/>
<path d="M60.40,48.58 C61.68,48.90 64.88,49.86 68.08,50.50 C71.28,51.14 76.19,51.46 79.61,52.42 C83.02,53.38 84.94,55.51 88.57,56.26 C92.20,57.01 96.68,57.02 101.37,56.91 C106.06,56.80 112.90,55.94 116.74,55.62 C120.58,55.30 123.14,55.09 124.42,54.98" fill="none" stroke="#444444" stroke-width="0.45" opacity="1" stroke-linejoin="round"/>
<path d="M66.80,52.42 C67.01,50.71 71.49,47.51 73.20,47.30 C74.91,47.09 74.91,49.86 77.05,51.14 C79.18,52.42 84.94,53.06 86.01,54.98 C87.08,56.90 85.37,61.18 83.45,62.67 C81.53,64.17 76.40,64.80 74.48,63.95 C72.56,63.10 73.20,59.47 71.92,57.55 C70.64,55.63 66.59,54.13 66.80,52.42Z" fill="none" stroke="#9fb8e2" stroke-width="0.35" opacity="1" stroke-linejoin="round"/>
<path d="M70.64,66.51 C72.13,65.98 75.98,63.63 79.61,63.31 C83.24,62.99 88.78,64.59 92.41,64.59 C96.04,64.59 98.17,63.20 101.37,63.31 C104.57,63.42 109.91,64.91 111.62,65.23" fill="none" stroke="#444444" stroke-width="0.45" opacity="1" stroke-linejoin="round"/>
<path d="M105.21,53.70 C106.49,52.21 112.26,50.29 114.18,51.14 C116.10,52.00 117.17,57.12 116.74,58.83 C116.31,60.54 113.33,61.18 111.62,61.39 C109.91,61.60 107.56,61.39 106.49,60.11 C105.42,58.83 103.93,55.20 105.21,53.70Z" fill="none" stroke="#e58a7c" stroke-width="0.35" opacity="1" stroke-linejoin="round"/>
<path d="M107.78,55.62 C108.21,55.09 110.34,54.55 110.98,54.98 C111.62,55.41 112.05,57.66 111.62,58.19 C111.19,58.72 109.06,58.62 108.42,58.19 C107.78,57.76 107.35,56.16 107.78,55.62Z" fill="none" stroke="#e58a7c" stroke-width="0.35" opacity="1" stroke-linejoin="round"/>
</g>
<rect x="0" y="0" width="123.40" height="66.3" fill="none" stroke="#d0d0d0" stroke-width="0.5"/>
<text x="-0.4" y="1.50" font-size="4.3" text-anchor="end" fill="#000">20</text>
<line x1="-0.8" y1="0.00" x2="0" y2="0.00" stroke="#666" stroke-width="0.3"/>
<text x="-0.4" y="8.37" font-size="4.3" text-anchor="end" fill="#000">30</text>
<line x1="-0.8" y1="6.87" x2="0" y2="6.87" stroke="#666" stroke-width="0.3"/>
<text x="-0.4" y="17.03" font-size="4.3" text-anchor="end" fill="#000">50</text>
<line x1="-0.8" y1="15.53" x2="0" y2="15.53" stroke="#666" stroke-width="0.3"/>
<text x="-0.4" y="22.73" font-size="4.3" text-anchor="end" fill="#000">70</text>
<line x1="-0.8" y1="21.23" x2="0" y2="21.23" stroke="#666" stroke-width="0.3"/>
<text x="-0.4" y="28.78" font-size="4.3" text-anchor="end" fill="#000">100</text>
<line x1="-0.8" y1="27.28" x2="0" y2="27.28" stroke="#666" stroke-width="0.3"/>
<text x="-0.4" y="40.52" font-size="4.3" text-anchor="end" fill="#000">200</text>
<line x1="-0.8" y1="39.02" x2="0" y2="39.02" stroke="#666" stroke-width="0.3"/>
<text x="-0.4" y="47.40" font-size="4.3" text-anchor="end" fill="#000">300</text>
<line x1="-0.8" y1="45.90" x2="0" y2="45.90" stroke="#666" stroke-width="0.3"/>
<text x="-0.4" y="56.05" font-size="4.3" text-anchor="end" fill="#000">500</text>
<line x1="-0.8" y1="54.55" x2="0" y2="54.55" stroke="#666" stroke-width="0.3"/>
<text x="-0.4" y="61.76" font-size="4.3" text-anchor="end" fill="#000">700</text>
<line x1="-0.8" y1="60.26" x2="0" y2="60.26" stroke="#666" stroke-width="0.3"/>
<text x="-0.4" y="67.80" font-size="4.3" text-anchor="end" fill="#000">1000</text>
<line x1="-0.8" y1="66.30" x2="0" y2="66.30" stroke="#666" stroke-width="0.3"/>
<text x="21.07" y="70.10" font-size="3.9" text-anchor="middle" fill="#000">60 E</text>
<text x="41.63" y="70.10" font-size="3.9" text-anchor="middle" fill="#000">120 E</text>
<text x="62.20" y="70.10" font-size="3.9" text-anchor="middle" fill="#000">180</text>
<text x="82.77" y="70.10" font-size="3.9" text-anchor="middle" fill="#000">120 W</text>
<text x="103.33" y="70.10" font-size="3.9" text-anchor="middle" fill="#000">60 W</text>
</g>
<clipPath id="cg"><rect x="0" y="0" width="123.30" height="66.3"/></clipPath>
<text x="16.7" y="196.0" font-size="6.3" fill="#000" stroke="#000" stroke-width="0.05">(g) WACCM, JAS</text>
<g transform="translate(14.4,198.0)">
<g clip-path="url(#cg)">
<linearGradient id="gg7" gradientUnits="userSpaceOnUse" x1="0" y1="0.0" x2="0" y2="28.5"><stop offset="0.0000" stop-color="#3b50c2"/><stop offset="0.1649" stop-color="#4a63d0"/><stop offset="0.2175" stop-color="#6484e4"/><stop offset="0.2702" stop-color="#8cabf8"/><stop offset="0.3333" stop-color="#b8cef8"/><stop offset="0.3789" stop-color="#dcdce6"/><stop offset="0.4140" stop-color="#f0b8a0"/><stop offset="0.4561" stop-color="#e4755c"/><stop offset="0.5614" stop-color="#dc5e4a"/><stop offset="0.6561" stop-color="#dc604c"/><stop offset="0.7193" stop-color="#e88068"/><stop offset="0.7895" stop-color="#f0a084"/><stop offset="0.8772" stop-color="#f6c8b4"/><stop offset="0.9649" stop-color="#fbe2d8"/><stop offset="1.0000" stop-color="#ffffff"/></linearGradient>
<rect x="0.00" y="0.00" width="123.30" height="28.50" fill="url(#gg7)" opacity="1"/>
<path d="M75.00,14.50 C75.00,13.53 76.95,13.28 85.00,13.00 C93.05,12.72 116.92,11.87 123.30,12.80 C129.68,13.73 129.68,17.60 123.30,18.60 C116.92,19.60 93.05,19.48 85.00,18.80 C76.95,18.12 75.00,15.47 75.00,14.50Z" fill="#cc443c" stroke="none" stroke-width="0.5" opacity="0.85" stroke-linejoin="round"/>
<path d="M-0.40,21.84 C1.73,19.49 10.27,19.28 12.40,21.84 C14.53,24.40 13.25,34.65 12.40,37.21 C11.55,39.77 9.41,37.42 7.28,37.21 C5.15,37.00 0.88,38.49 -0.40,35.93 C-1.68,33.37 -2.53,24.19 -0.40,21.84Z" fill="#f1aa8e" stroke="none" stroke-width="0.5" opacity="1" stroke-linejoin="round"/>
<path d="M20.09,21.84 C21.48,20.88 27.56,20.88 29.05,21.84 C30.54,22.80 30.44,26.64 29.05,27.60 C27.66,28.56 22.22,28.56 20.73,27.60 C19.24,26.64 18.70,22.80 20.09,21.84Z" fill="#f4b49a" stroke="none" stroke-width="0.5" opacity="1" stroke-linejoin="round"/>
<rect x="29.05" y="21.80" width="20.49" height="4.20" fill="#ffffff" opacity="1"/>
<path d="M49.54,21.84 C51.03,20.99 57.01,20.99 58.50,21.84 C59.99,22.69 59.99,26.11 58.50,26.96 C57.01,27.81 51.03,27.81 49.54,26.96 C48.05,26.11 48.05,22.69 49.54,21.84Z" fill="#f6c0a8" stroke="none" stroke-width="0.5" opacity="1" stroke-linejoin="round"/>
<rect x="67.28" y="21.80" width="30.73" height="2.70" fill="#ffffff" opacity="1"/>
<path d="M99.29,23.12 C103.34,22.48 119.56,22.37 123.62,23.12 C127.68,23.87 127.68,26.96 123.62,27.60 C119.56,28.24 103.34,27.71 99.29,26.96 C95.23,26.21 95.23,23.76 99.29,23.12Z" fill="#dc8c74" stroke="none" stroke-width="0.5" opacity="0.85" stroke-linejoin="round"/>
<path d="M0,1.4 H124" fill="none" stroke="#444444" stroke-width="0.45" stroke-dasharray="0.9 0.7" opacity="1" stroke-linejoin="round"/>
<path d="M0.00,8.60 C3.33,8.57 13.33,8.67 20.00,8.40 C26.67,8.13 35.00,7.43 40.00,7.00 C45.00,6.57 45.00,6.05 50.00,5.80 C55.00,5.55 57.78,5.53 70.00,5.50 C82.22,5.47 114.42,5.58 123.30,5.60" fill="none" stroke="#444444" stroke-width="0.45" stroke-dasharray="0.9 0.7" opacity="1" stroke-linejoin="round"/>
<path d="M66.60,17.40 C67.50,17.03 70.60,15.65 72.00,15.20 C73.40,14.75 70.33,14.80 75.00,14.70 C79.67,14.60 91.95,14.62 100.00,14.60 C108.05,14.58 119.42,14.60 123.30,14.60" fill="none" stroke="#444444" stroke-width="0.45" stroke-dasharray="0.9 0.7" opacity="1" stroke-linejoin="round"/>
<path d="M7.28,20.56 C8.13,20.24 4.08,18.96 12.40,18.64 C20.72,18.32 49.11,18.11 57.22,18.64 C65.33,19.17 58.71,21.20 61.06,21.84 C63.41,22.48 68.31,22.69 71.30,22.48 C74.29,22.27 77.71,20.88 78.99,20.56" fill="none" stroke="#444444" stroke-width="0.45" stroke-dasharray="0.9 0.7" opacity="1" stroke-linejoin="round"/>
<path d="M-0.40,26.96 C0.88,27.60 5.57,28.88 7.28,30.80 C8.99,32.72 10.48,35.93 9.84,38.49 C9.20,41.05 5.15,44.68 3.44,46.17 C1.73,47.66 0.24,47.24 -0.40,47.45" fill="none" stroke="#4a4a4a" stroke-width="0.55" opacity="1" stroke-linejoin="round"/>
<path d="M-0.40,30.80 C0.45,31.44 3.76,33.16 4.72,34.65 C5.68,36.15 5.79,38.38 5.36,39.77 C4.93,41.16 3.12,42.33 2.16,42.97 C1.20,43.61 0.03,43.50 -0.40,43.61" fill="none" stroke="#4a4a4a" stroke-width="0.55" opacity="1" stroke-linejoin="round"/>
<path d="M3.44,21.84 C4.93,22.69 10.69,23.33 12.40,26.96 C14.11,30.59 13.04,39.77 13.68,43.61 C14.32,47.45 15.82,48.94 16.25,50.01" fill="none" stroke="#4a4a4a" stroke-width="0.55" opacity="1" stroke-linejoin="round"/>
<path d="M-0.40,34.65 C0.03,35.08 1.84,36.25 2.16,37.21 C2.48,38.17 1.95,39.77 1.52,40.41 C1.09,41.05 -0.08,40.94 -0.40,41.05" fill="none" stroke="#4a4a4a" stroke-width="0.55" opacity="1" stroke-linejoin="round"/>
<path d="M20.09,23.12 C23.50,21.31 31.39,22.27 38.01,22.48 C44.62,22.69 54.23,24.29 59.78,24.40 C65.33,24.51 69.81,21.63 71.30,23.12 C72.79,24.61 69.59,30.37 68.74,33.36 C67.89,36.35 68.74,38.92 66.18,41.05 C63.62,43.19 58.08,45.10 53.38,46.17 C48.69,47.24 42.70,47.88 38.01,47.45 C33.31,47.02 28.62,45.96 25.21,43.61 C21.80,41.26 18.38,36.78 17.53,33.36 C16.68,29.95 16.68,24.93 20.09,23.12Z" fill="none" stroke="#4a4a4a" stroke-width="0.55" opacity="1" stroke-linejoin="round"/>
<path d="M25.21,25.68 C26.92,23.44 31.40,23.76 35.45,23.76 C39.51,23.76 46.55,23.87 49.54,25.68 C52.53,27.50 54.02,32.09 53.38,34.65 C52.74,37.21 49.32,39.56 45.69,41.05 C42.06,42.54 35.02,44.25 31.61,43.61 C28.20,42.97 26.28,40.20 25.21,37.21 C24.14,34.22 23.50,27.92 25.21,25.68Z" fill="none" stroke="#4a4a4a" stroke-width="0.55" opacity="1" stroke-linejoin="round"/>
<path d="M29.05,28.24 C30.97,27.17 37.80,26.32 40.57,26.96 C43.34,27.60 45.48,30.37 45.69,32.08 C45.90,33.79 43.98,36.14 41.85,37.21 C39.72,38.28 35.02,39.13 32.89,38.49 C30.76,37.85 29.69,35.07 29.05,33.36 C28.41,31.65 27.13,29.31 29.05,28.24Z" fill="none" stroke="#4a4a4a" stroke-width="0.55" opacity="1" stroke-linejoin="round"/>
<path d="M32.89,29.52 C33.96,28.67 39.29,28.67 40.57,29.52 C41.85,30.38 41.64,33.80 40.57,34.65 C39.50,35.51 35.45,35.51 34.17,34.65 C32.89,33.80 31.82,30.38 32.89,29.52Z" fill="none" stroke="#4a4a4a" stroke-width="0.55" opacity="1" stroke-linejoin="round"/>
<path d="M22.65,24.40 C25.42,21.84 32.67,23.01 38.01,23.12 C43.34,23.23 51.25,23.12 54.66,25.04 C58.08,26.96 59.57,31.56 58.50,34.65 C57.43,37.75 52.74,41.80 48.26,43.61 C43.78,45.42 36.09,46.38 31.61,45.53 C27.13,44.68 22.86,42.01 21.37,38.49 C19.88,34.97 19.88,26.96 22.65,24.40Z" fill="none" stroke="#e58a7c" stroke-width="0.35" opacity="1" stroke-linejoin="round"/>
<path d="M27.13,26.96 C28.94,25.42 34.49,25.11 38.01,25.43 C41.53,25.75 46.34,27.34 48.26,28.88 C50.18,30.42 50.61,32.84 49.54,34.65 C48.47,36.47 45.05,38.70 41.85,39.77 C38.65,40.84 32.78,41.90 30.33,41.05 C27.88,40.20 27.66,37.00 27.13,34.65 C26.60,32.30 25.32,28.50 27.13,26.96Z" fill="none" stroke="#e58a7c" stroke-width="0.35" opacity="1" stroke-linejoin="round"/>
<path d="M-0.40,38.49 C0.88,38.92 5.15,39.56 7.28,41.05 C9.41,42.54 11.55,46.38 12.40,47.45" fill="none" stroke="#e58a7c" stroke-width="0.35" opacity="1" stroke-linejoin="round"/>
<path d="M-0.40,42.33 C0.67,42.76 4.29,43.61 6.00,44.89 C7.71,46.17 9.20,49.16 9.84,50.01" fill="none" stroke="#e58a7c" stroke-width="0.35" opacity="1" stroke-linejoin="round"/>
<path d="M98.00,33.70 C97.87,32.75 99.40,31.58 101.50,31.10 C103.60,30.62 107.42,30.87 110.60,30.80 C113.78,30.73 117.77,30.25 120.60,30.70 C123.43,31.15 127.60,32.48 127.60,33.50 C127.60,34.52 123.43,36.23 120.60,36.80 C117.77,37.37 113.65,36.90 110.60,36.90 C107.55,36.90 104.40,37.33 102.30,36.80 C100.20,36.27 98.13,34.65 98.00,33.70Z" fill="none" stroke="#4a4a4a" stroke-width="0.55" opacity="1" stroke-linejoin="round"/>
<path d="M95.40,33.30 C94.97,31.42 96.53,29.08 98.90,28.10 C101.27,27.12 105.98,27.55 109.60,27.40 C113.22,27.25 117.10,26.18 120.60,27.20 C124.10,28.22 130.60,31.32 130.60,33.50 C130.60,35.68 124.10,39.18 120.60,40.30 C117.10,41.42 112.78,40.35 109.60,40.20 C106.42,40.05 103.87,40.55 101.50,39.40 C99.13,38.25 95.83,35.18 95.40,33.30Z" fill="none" stroke="#4a4a4a" stroke-width="0.55" opacity="1" stroke-linejoin="round"/>
<path d="M88.90,34.20 C88.32,32.18 91.28,30.32 92.80,29.00 C94.32,27.68 95.20,26.85 98.00,26.30 C100.80,25.75 105.83,25.83 109.60,25.70 C113.37,25.57 116.60,24.12 120.60,25.50 C124.60,26.88 133.60,31.10 133.60,34.00 C133.60,36.90 124.93,41.48 120.60,42.90 C116.27,44.32 111.65,42.80 107.60,42.50 C103.55,42.20 99.42,42.48 96.30,41.10 C93.18,39.72 89.48,36.22 88.90,34.20Z" fill="none" stroke="#4a4a4a" stroke-width="0.55" opacity="1" stroke-linejoin="round"/>
<path d="M80.60,33.30 C80.13,30.92 84.07,28.65 85.80,27.20 C87.53,25.75 88.97,25.32 91.00,24.60 C93.03,23.88 93.07,23.20 98.00,22.90 C102.93,22.60 114.33,20.95 120.60,22.80 C126.87,24.65 135.60,30.22 135.60,34.00 C135.60,37.78 126.93,43.67 120.60,45.50 C114.27,47.33 102.93,45.67 97.60,45.00 C92.27,44.33 91.43,43.45 88.60,41.50 C85.77,39.55 81.07,35.68 80.60,33.30Z" fill="none" stroke="#4a4a4a" stroke-width="0.55" opacity="1" stroke-linejoin="round"/>
<path d="M73.60,34.60 C73.43,31.85 77.27,28.52 79.60,26.50 C81.93,24.48 84.60,23.33 87.60,22.50 C90.60,21.67 92.10,21.72 97.60,21.50 C103.10,21.28 113.93,19.12 120.60,21.20 C127.27,23.28 137.60,29.53 137.60,34.00 C137.60,38.47 127.93,45.75 120.60,48.00 C113.27,50.25 100.27,48.33 93.60,47.50 C86.93,46.67 83.93,45.15 80.60,43.00 C77.27,40.85 73.77,37.35 73.60,34.60Z" fill="none" stroke="#4a4a4a" stroke-width="0.55" opacity="1" stroke-linejoin="round"/>
<path d="M59.60,21.84 C60.45,22.91 64.29,24.61 64.72,28.24 C65.15,31.87 62.59,41.05 62.16,43.61" fill="none" stroke="#4a4a4a" stroke-width="0.55" opacity="1" stroke-linejoin="round"/>
<path d="M68.56,23.12 C67.92,25.04 64.93,31.24 64.72,34.65 C64.51,38.07 66.85,42.12 67.28,43.61" fill="none" stroke="#4a4a4a" stroke-width="0.55" opacity="1" stroke-linejoin="round"/>
<path d="M66.00,50.01 C68.13,49.37 73.47,46.60 78.81,46.17 C84.14,45.74 90.54,47.02 98.01,47.45 C105.48,47.88 119.35,48.52 123.62,48.73" fill="none" stroke="#4a4a4a" stroke-width="0.55" opacity="1" stroke-linejoin="round"/>
<path d="M98.01,25.68 C100.14,26.11 106.55,27.39 110.82,28.24 C115.09,29.09 121.49,30.37 123.62,30.80" fill="none" stroke="#e58a7c" stroke-width="0.35" opacity="1" stroke-linejoin="round"/>
<path d="M95.45,29.52 C98.01,29.63 106.12,29.52 110.82,30.16 C115.52,30.80 121.49,32.83 123.62,33.36" fill="none" stroke="#e58a7c" stroke-width="0.35" opacity="1" stroke-linejoin="round"/>
<path d="M-0.40,43.84 C1.95,44.16 9.41,45.23 13.68,45.76 C17.95,46.29 21.58,46.93 25.21,47.04 C28.84,47.15 31.61,46.93 35.45,46.40 C39.29,45.87 43.56,44.05 48.26,43.84 C52.95,43.63 59.78,44.59 63.62,45.12 C67.46,45.65 69.59,46.19 71.30,47.04 C73.01,47.89 70.87,49.07 73.86,50.24 C76.85,51.41 84.75,53.01 89.23,54.08 C93.71,55.15 96.48,56.33 100.75,56.65 C105.02,56.97 110.36,56.01 114.84,56.01 C119.32,56.01 125.51,56.54 127.64,56.65" fill="none" stroke="#4a4a4a" stroke-width="0.55" opacity="1" stroke-linejoin="round"/>
<path d="M8.56,55.36 C7.71,54.51 10.90,52.37 13.68,51.52 C16.45,50.67 21.16,50.67 25.21,50.24 C29.27,49.81 35.24,48.32 38.01,48.96 C40.78,49.60 41.85,52.80 41.85,54.08 C41.85,55.36 40.78,55.80 38.01,56.65 C35.24,57.51 28.41,59.21 25.21,59.21 C22.01,59.21 21.59,57.29 18.81,56.65 C16.04,56.01 9.42,56.22 8.56,55.36Z" fill="none" stroke="#9fb8e2" stroke-width="0.35" opacity="1" stroke-linejoin="round"/>
<rect x="11.10" y="59.20" width="7.70" height="7.10" fill="#cfd3da" opacity="1"/>
<path d="M11.12,55.36 C12.19,54.68 16.46,54.47 17.53,55.11 C18.60,55.75 18.60,58.53 17.53,59.21 C16.46,59.89 12.19,59.85 11.12,59.21 C10.05,58.57 10.05,56.04 11.12,55.36Z" fill="#b9caea" stroke="none" stroke-width="0.5" opacity="1" stroke-linejoin="round"/>
<path d="M25.21,60.49 C26.28,59.64 39.29,57.40 44.41,56.65 C49.53,55.90 52.95,55.58 55.94,56.01 C58.93,56.44 63.19,58.14 62.34,59.21 C61.49,60.28 54.88,61.98 50.82,62.41 C46.77,62.84 42.28,62.09 38.01,61.77 C33.74,61.45 24.14,61.34 25.21,60.49Z" fill="none" stroke="#4a4a4a" stroke-width="0.55" opacity="1" stroke-linejoin="round"/>
<path d="M-0.40,55.36 C1.09,55.47 7.07,55.90 8.56,56.01" fill="none" stroke="#444444" stroke-width="0.45" stroke-dasharray="0.9 0.7" opacity="1" stroke-linejoin="round"/>
<path d="M-0.40,59.21 C0.88,58.63 5.57,58.36 7.28,58.57 C8.99,58.78 11.12,59.92 9.84,60.49 C8.56,61.07 1.31,62.23 -0.40,62.02 C-2.11,61.81 -1.68,59.78 -0.40,59.21Z" fill="none" stroke="#4a4a4a" stroke-width="0.55" opacity="1" stroke-linejoin="round"/>
<path d="M48.26,54.08 C49.54,53.87 53.59,52.16 55.94,52.80 C58.29,53.44 61.27,57.08 62.34,57.93" fill="none" stroke="#9fb8e2" stroke-width="0.35" opacity="1" stroke-linejoin="round"/>
<path d="M59.60,64.33 C62.59,63.48 76.25,61.13 77.53,59.21 C78.81,57.29 69.20,54.72 67.28,52.80 C65.36,50.88 66.21,48.53 66.00,47.68" fill="none" stroke="#4a4a4a" stroke-width="0.55" opacity="1" stroke-linejoin="round"/>
<path d="M101.85,59.85 C101.96,59.38 104.62,58.89 105.69,58.95 C106.76,59.01 108.37,59.76 108.26,60.23 C108.15,60.70 106.12,61.83 105.05,61.77 C103.98,61.71 101.74,60.32 101.85,59.85Z" fill="none" stroke="#4a4a4a" stroke-width="0.55" opacity="1" stroke-linejoin="round"/>
<path d="M91.61,66.25 C92.68,65.93 96.09,64.33 98.01,64.33 C99.93,64.33 102.28,65.93 103.13,66.25" fill="none" stroke="#4a4a4a" stroke-width="0.55" opacity="1" stroke-linejoin="round"/>
<path d="M117.22,66.25 C116.79,65.61 119.99,63.58 121.06,63.05 C122.13,62.52 123.19,62.41 123.62,63.05 C124.05,63.69 124.69,66.36 123.62,66.89 C122.55,67.42 117.65,66.89 117.22,66.25Z" fill="#d8dce2" stroke="none" stroke-width="0.5" opacity="1" stroke-linejoin="round"/>
<path d="M59.60,56.65 C60.45,56.97 64.29,57.93 64.72,58.57 C65.15,59.21 62.59,60.17 62.16,60.49" fill="none" stroke="#9fb8e2" stroke-width="0.35" opacity="1" stroke-linejoin="round"/>
</g>
<rect x="0" y="0" width="123.30" height="66.3" fill="none" stroke="#d0d0d0" stroke-width="0.5"/>
<text x="-0.4" y="1.50" font-size="4.3" text-anchor="end" fill="#000">20</text>
<line x1="-0.8" y1="0.00" x2="0" y2="0.00" stroke="#666" stroke-width="0.3"/>
<text x="-0.4" y="8.37" font-size="4.3" text-anchor="end" fill="#000">30</text>
<line x1="-0.8" y1="6.87" x2="0" y2="6.87" stroke="#666" stroke-width="0.3"/>
<text x="-0.4" y="17.03" font-size="4.3" text-anchor="end" fill="#000">50</text>
<line x1="-0.8" y1="15.53" x2="0" y2="15.53" stroke="#666" stroke-width="0.3"/>
<text x="-0.4" y="22.73" font-size="4.3" text-anchor="end" fill="#000">70</text>
<line x1="-0.8" y1="21.23" x2="0" y2="21.23" stroke="#666" stroke-width="0.3"/>
<text x="-0.4" y="28.78" font-size="4.3" text-anchor="end" fill="#000">100</text>
<line x1="-0.8" y1="27.28" x2="0" y2="27.28" stroke="#666" stroke-width="0.3"/>
<text x="-0.4" y="40.52" font-size="4.3" text-anchor="end" fill="#000">200</text>
<line x1="-0.8" y1="39.02" x2="0" y2="39.02" stroke="#666" stroke-width="0.3"/>
<text x="-0.4" y="47.40" font-size="4.3" text-anchor="end" fill="#000">300</text>
<line x1="-0.8" y1="45.90" x2="0" y2="45.90" stroke="#666" stroke-width="0.3"/>
<text x="-0.4" y="56.05" font-size="4.3" text-anchor="end" fill="#000">500</text>
<line x1="-0.8" y1="54.55" x2="0" y2="54.55" stroke="#666" stroke-width="0.3"/>
<text x="-0.4" y="61.76" font-size="4.3" text-anchor="end" fill="#000">700</text>
<line x1="-0.8" y1="60.26" x2="0" y2="60.26" stroke="#666" stroke-width="0.3"/>
<text x="-0.4" y="67.80" font-size="4.3" text-anchor="end" fill="#000">1000</text>
<line x1="-0.8" y1="66.30" x2="0" y2="66.30" stroke="#666" stroke-width="0.3"/>
<text x="21.05" y="70.10" font-size="3.9" text-anchor="middle" fill="#000">60 E</text>
<text x="41.60" y="70.10" font-size="3.9" text-anchor="middle" fill="#000">120 E</text>
<text x="62.15" y="70.10" font-size="3.9" text-anchor="middle" fill="#000">180</text>
<text x="82.70" y="70.10" font-size="3.9" text-anchor="middle" fill="#000">120 W</text>
<text x="103.25" y="70.10" font-size="3.9" text-anchor="middle" fill="#000">60 W</text>
</g>
<clipPath id="ch"><rect x="0" y="0" width="123.10" height="66.3"/></clipPath>
<text x="154.1" y="196.0" font-size="6.3" fill="#000" stroke="#000" stroke-width="0.05">(h) MIROC-AGCM, JJA</text>
<g transform="translate(152.9,198.0)">
<g clip-path="url(#ch)">
<linearGradient id="gh8" gradientUnits="userSpaceOnUse" x1="0" y1="0.30000000000001137" x2="0" y2="25.5"><stop offset="0.0000" stop-color="#ffffff"/><stop offset="0.0079" stop-color="#e4eaf3"/><stop offset="0.0794" stop-color="#dde5f1"/><stop offset="0.1865" stop-color="#d4def0"/><stop offset="0.2659" stop-color="#ccd9ee"/><stop offset="0.2897" stop-color="#b0c2e2"/><stop offset="0.3214" stop-color="#f0c8c0"/><stop offset="0.3770" stop-color="#f6d6ce"/><stop offset="0.4008" stop-color="#fcf0ec"/><stop offset="0.4246" stop-color="#f6b89c"/><stop offset="0.4643" stop-color="#f4a888"/><stop offset="0.7817" stop-color="#f4a686"/><stop offset="0.8452" stop-color="#f6c0a8"/><stop offset="0.9325" stop-color="#f9d8ca"/><stop offset="1.0000" stop-color="#ffffff"/></linearGradient>
<rect x="0.00" y="0.30" width="123.10" height="25.20" fill="url(#gh8)" opacity="1"/>
<path d="M28.00,15.40 C29.67,15.07 35.00,14.53 40.00,14.40 C45.00,14.27 54.67,14.40 58.00,14.60 C61.33,14.80 62.17,15.27 60.00,15.60 C57.83,15.93 50.00,16.47 45.00,16.60 C40.00,16.73 32.83,16.60 30.00,16.40 C27.17,16.20 26.33,15.73 28.00,15.40Z" fill="#e2664f" stroke="none" stroke-width="0.5" opacity="0.85" stroke-linejoin="round"/>
<rect x="92.40" y="21.20" width="17.90" height="1.90" fill="#ffffff" opacity="1"/>
<path d="M0,0.6 H124" fill="none" stroke="#444444" stroke-width="0.45" stroke-dasharray="0.9 0.7" opacity="1" stroke-linejoin="round"/>
<path d="M0,6.5 H124" fill="none" stroke="#444444" stroke-width="0.45" stroke-dasharray="0.9 0.7" opacity="1" stroke-linejoin="round"/>
<path d="M110.32,19.28 C111.39,19.39 114.59,19.49 116.72,19.92 C118.85,20.35 122.05,21.52 123.12,21.84" fill="none" stroke="#444444" stroke-width="0.45" stroke-dasharray="0.9 0.7" opacity="1" stroke-linejoin="round"/>
<path d="M13.85,24.00 C16.14,22.96 25.20,22.44 27.60,23.38 C29.99,24.32 30.51,28.58 28.22,29.62 C25.93,30.66 16.24,30.56 13.85,29.62 C11.45,28.68 11.56,25.04 13.85,24.00Z" fill="#ee9e80" stroke="none" stroke-width="0.5" opacity="0.8" stroke-linejoin="round"/>
<path d="M16.35,24.62 C17.70,24.00 23.54,23.73 25.10,24.25 C26.66,24.77 27.07,27.12 25.72,27.75 C24.37,28.38 18.54,28.52 16.98,28.00 C15.42,27.48 15.00,25.25 16.35,24.62Z" fill="#d88468" stroke="none" stroke-width="0.5" opacity="0.5" stroke-linejoin="round"/>
<path d="M14.48,30.00 C16.56,29.58 24.90,29.58 26.98,30.00 C29.06,30.42 29.06,32.08 26.98,32.50 C24.90,32.92 16.56,32.92 14.48,32.50 C12.40,32.08 12.40,30.42 14.48,30.00Z" fill="#ffffff" stroke="none" stroke-width="0.5" opacity="0.8" stroke-linejoin="round"/>
<path d="M28.85,29.00 C29.58,28.10 33.02,28.58 33.85,29.62 C34.68,30.66 34.58,34.35 33.85,35.25 C33.12,36.15 30.31,36.04 29.48,35.00 C28.65,33.96 28.12,29.90 28.85,29.00Z" fill="#f2b094" stroke="none" stroke-width="0.5" opacity="0.75" stroke-linejoin="round"/>
<path d="M32.60,37.75 C34.16,36.92 40.93,37.34 42.60,38.38 C44.27,39.42 44.16,43.17 42.60,44.00 C41.04,44.83 34.89,44.42 33.22,43.38 C31.55,42.34 31.04,38.58 32.60,37.75Z" fill="#f4b89c" stroke="none" stroke-width="0.5" opacity="0.7" stroke-linejoin="round"/>
<path d="M47.60,39.00 C48.54,38.31 52.81,38.79 53.85,39.62 C54.89,40.45 54.79,43.31 53.85,44.00 C52.91,44.69 49.26,44.58 48.22,43.75 C47.18,42.92 46.66,39.69 47.60,39.00Z" fill="#f6c8b0" stroke="none" stroke-width="0.5" opacity="0.6" stroke-linejoin="round"/>
<path d="M11.98,30.25 C12.60,28.89 13.75,26.39 16.35,25.25 C18.95,24.11 24.89,23.17 27.60,23.38 C30.31,23.59 32.39,24.94 32.60,26.50 C32.81,28.06 31.35,31.40 28.85,32.75 C26.35,34.10 20.31,34.52 17.60,34.62 C14.89,34.73 13.54,34.11 12.60,33.38 C11.66,32.65 11.35,31.61 11.98,30.25Z" fill="none" stroke="#333" stroke-width="0.5" stroke-dasharray="1.1 0.55" opacity="1" stroke-linejoin="round"/>
<path d="M10.72,30.25 C11.34,28.58 11.87,25.36 15.10,24.00 C18.33,22.64 25.72,21.29 30.10,22.12 C34.47,22.95 38.64,26.81 41.35,29.00 C44.06,31.19 47.18,33.58 46.35,35.25 C45.52,36.92 40.93,38.69 36.35,39.00 C31.77,39.31 23.02,37.95 18.85,37.12 C14.68,36.29 12.70,35.15 11.35,34.00 C9.99,32.85 10.09,31.92 10.72,30.25Z" fill="none" stroke="#333" stroke-width="0.5" stroke-dasharray="1.1 0.55" opacity="1" stroke-linejoin="round"/>
<path d="M8.85,30.88 C9.47,28.90 9.89,25.05 13.85,23.38 C17.81,21.71 26.56,19.73 32.60,20.88 C38.64,22.02 46.14,27.44 50.10,30.25 C54.06,33.06 56.77,35.67 56.35,37.75 C55.93,39.83 52.81,42.23 47.60,42.75 C42.39,43.27 31.35,42.13 25.10,40.88 C18.85,39.63 12.81,36.92 10.10,35.25 C7.39,33.58 8.22,32.86 8.85,30.88Z" fill="none" stroke="#333" stroke-width="0.5" stroke-dasharray="1.1 0.55" opacity="1" stroke-linejoin="round"/>
<path d="M6.98,30.88 C7.60,28.38 7.91,24.63 12.60,22.75 C17.29,20.87 27.60,18.16 35.10,19.62 C42.60,21.08 53.02,28.06 57.60,31.50 C62.18,34.94 63.43,37.75 62.60,40.25 C61.77,42.75 58.43,45.67 52.60,46.50 C46.77,47.33 34.89,46.71 27.60,45.25 C20.31,43.79 12.29,40.15 8.85,37.75 C5.41,35.35 6.35,33.38 6.98,30.88Z" fill="none" stroke="#333" stroke-width="0.5" stroke-dasharray="1.1 0.55" opacity="1" stroke-linejoin="round"/>
<path d="M5.10,30.25 C5.83,27.12 6.56,23.48 11.98,21.50 C17.40,19.52 29.16,16.50 37.60,18.38 C46.04,20.25 57.60,28.48 62.60,32.75 C67.60,37.02 68.02,41.08 67.60,44.00 C67.18,46.92 66.14,49.42 60.10,50.25 C54.06,51.08 40.10,50.67 31.35,49.00 C22.60,47.33 11.97,43.38 7.60,40.25 C3.22,37.12 4.37,33.38 5.10,30.25Z" fill="none" stroke="#333" stroke-width="0.5" stroke-dasharray="1.1 0.55" opacity="1" stroke-linejoin="round"/>
<path d="M11.35,30.25 C11.45,28.37 12.80,25.87 15.72,24.62 C18.64,23.37 25.31,22.23 28.85,22.75 C32.39,23.27 35.52,25.77 36.98,27.75 C38.44,29.73 39.16,33.16 37.60,34.62 C36.04,36.08 31.35,36.29 27.60,36.50 C23.85,36.71 17.81,36.92 15.10,35.88 C12.39,34.84 11.25,32.13 11.35,30.25Z" fill="none" stroke="#e58a7c" stroke-width="0.35" opacity="1" stroke-linejoin="round"/>
<path d="M9.85,30.50 C10.48,28.69 10.90,25.25 14.48,23.75 C18.06,22.25 26.14,20.52 31.35,21.50 C36.56,22.48 42.39,27.12 45.72,29.62 C49.05,32.12 51.87,34.62 51.35,36.50 C50.83,38.38 47.49,40.46 42.60,40.88 C37.70,41.30 27.29,40.04 21.98,39.00 C16.67,37.96 12.74,36.04 10.72,34.62 C8.70,33.20 9.22,32.31 9.85,30.50Z" fill="none" stroke="#e58a7c" stroke-width="0.35" opacity="1" stroke-linejoin="round"/>
<path d="M30.10,35.25 C33.02,33.38 50.31,35.04 55.10,36.50 C59.89,37.96 58.85,41.50 58.85,44.00 C58.85,46.50 57.18,50.04 55.10,51.50 C53.02,52.96 49.27,53.38 46.35,52.75 C43.43,52.12 40.31,50.67 37.60,47.75 C34.89,44.83 27.18,37.12 30.10,35.25Z" fill="none" stroke="#e58a7c" stroke-width="0.35" opacity="1" stroke-linejoin="round"/>
<path d="M24.71,40.00 C26.84,40.85 33.24,43.41 37.51,45.12 C41.78,46.83 46.90,49.81 50.32,50.24 C53.73,50.67 56.29,49.39 58.00,47.68 C59.71,45.97 60.13,41.28 60.56,40.00" fill="none" stroke="#e58a7c" stroke-width="0.35" opacity="1" stroke-linejoin="round"/>
<path d="M-0.90,25.68 C0.38,22.48 5.07,26.32 6.78,28.24 C8.49,30.16 9.34,34.22 9.34,37.21 C9.34,40.20 8.49,44.46 6.78,46.17 C5.07,47.88 0.38,50.86 -0.90,47.45 C-2.18,44.03 -2.18,28.88 -0.90,25.68Z" fill="none" stroke="#444444" stroke-width="0.45" opacity="1" stroke-linejoin="round"/>
<path d="M1.66,37.21 C2.09,36.36 4.65,35.50 5.50,35.93 C6.35,36.36 7.21,38.92 6.78,39.77 C6.35,40.62 3.79,41.48 2.94,41.05 C2.09,40.62 1.23,38.06 1.66,37.21Z" fill="none" stroke="#9fb8e2" stroke-width="0.35" opacity="1" stroke-linejoin="round"/>
<path d="M-0.90,18.00 C1.23,17.89 7.21,17.36 11.90,17.36 C16.60,17.36 24.71,17.89 27.27,18.00" fill="none" stroke="#444444" stroke-width="0.45" stroke-dasharray="0.9 0.7" opacity="1" stroke-linejoin="round"/>
<path d="M59.10,27.60 C61.45,27.92 69.98,28.35 73.18,29.52 C76.38,30.70 77.24,32.30 78.31,34.65 C79.38,37.00 78.52,41.26 79.59,43.61 C80.66,45.96 83.00,46.60 84.71,48.73 C86.42,50.86 85.56,55.13 89.83,56.41 C94.10,57.69 104.77,56.41 110.32,56.41 C115.87,56.41 120.99,56.41 123.12,56.41" fill="none" stroke="#444444" stroke-width="0.45" opacity="1" stroke-linejoin="round"/>
<path d="M79.59,30.16 C81.30,28.88 88.98,28.99 91.11,29.52 C93.24,30.05 92.82,32.51 92.39,33.36 C91.96,34.22 89.83,33.80 88.55,34.65 C87.27,35.51 85.99,38.06 84.71,38.49 C83.43,38.92 81.72,38.60 80.87,37.21 C80.02,35.82 77.88,31.44 79.59,30.16Z" fill="#c2d1ee" stroke="none" stroke-width="0.5" opacity="1" stroke-linejoin="round"/>
<path d="M74.46,28.24 C77.66,26.32 91.11,24.83 94.95,26.96 C98.79,29.10 99.22,38.06 97.51,41.05 C95.80,44.04 88.34,45.32 84.71,44.89 C81.08,44.46 77.46,41.27 75.75,38.49 C74.04,35.72 71.26,30.16 74.46,28.24Z" fill="none" stroke="#9fb8e2" stroke-width="0.35" opacity="1" stroke-linejoin="round"/>
<path d="M71.90,25.68 C75.95,22.91 92.60,21.41 97.51,24.40 C102.42,27.39 103.48,39.56 101.35,43.61 C99.22,47.67 89.41,49.16 84.71,48.73 C80.02,48.30 75.32,44.89 73.18,41.05 C71.05,37.21 67.85,28.46 71.90,25.68Z" fill="none" stroke="#9fb8e2" stroke-width="0.35" opacity="1" stroke-linejoin="round"/>
<path d="M93.67,26.96 C94.52,25.79 96.87,26.11 100.07,26.32 C103.27,26.53 110.32,26.85 112.88,28.24 C115.44,29.63 116.29,32.52 115.44,34.65 C114.59,36.79 109.90,39.34 107.76,41.05 C105.63,42.76 104.34,45.10 102.63,44.89 C100.92,44.68 98.79,41.69 97.51,39.77 C96.23,37.85 95.59,35.50 94.95,33.36 C94.31,31.23 92.82,28.13 93.67,26.96Z" fill="none" stroke="#444444" stroke-width="0.6" opacity="1" stroke-linejoin="round"/>
<path d="M100.07,30.80 C100.50,29.52 100.92,28.88 102.63,29.52 C104.34,30.16 109.89,33.16 110.32,34.65 C110.75,36.15 106.90,38.06 105.19,38.49 C103.48,38.92 100.92,38.49 100.07,37.21 C99.22,35.93 99.64,32.08 100.07,30.80Z" fill="none" stroke="#444444" stroke-width="0.6" opacity="1" stroke-linejoin="round"/>
<path d="M116.72,37.21 C117.36,37.64 119.49,38.70 120.56,39.77 C121.63,40.84 122.69,42.97 123.12,43.61" fill="none" stroke="#9fb8e2" stroke-width="0.35" opacity="1" stroke-linejoin="round"/>
<path d="M59.10,30.80 C60.38,31.44 65.29,32.52 66.78,34.65 C68.27,36.79 68.49,41.26 68.06,43.61 C67.63,45.96 64.86,47.88 64.22,48.73" fill="none" stroke="#444444" stroke-width="0.45" opacity="1" stroke-linejoin="round"/>
<path d="M-0.90,43.84 C0.81,44.05 6.14,45.33 9.34,45.12 C12.54,44.91 15.75,43.41 18.31,42.56 C20.87,41.71 23.64,40.43 24.71,40.00" fill="none" stroke="#444444" stroke-width="0.45" opacity="1" stroke-linejoin="round"/>
<path d="M-0.90,51.52 C0.38,50.24 5.29,51.95 6.78,52.80 C8.27,53.66 8.27,55.37 8.06,56.65 C7.85,57.93 6.99,59.85 5.50,60.49 C4.01,61.13 0.17,61.99 -0.90,60.49 C-1.97,59.00 -2.18,52.80 -0.90,51.52Z" fill="none" stroke="#444444" stroke-width="0.45" opacity="1" stroke-linejoin="round"/>
<path d="M17.03,56.65 C17.67,55.69 20.02,54.72 22.15,54.72 C24.28,54.72 28.76,56.01 29.83,56.65 C30.90,57.29 29.83,58.36 28.55,58.57 C27.27,58.78 23.86,57.61 22.15,57.93 C20.44,58.25 19.16,60.70 18.31,60.49 C17.46,60.28 16.39,57.61 17.03,56.65Z" fill="none" stroke="#333" stroke-width="0.5" stroke-dasharray="1.1 0.55" opacity="1" stroke-linejoin="round"/>
<path d="M33.67,54.08 C34.74,53.01 39.00,53.01 40.07,54.08 C41.14,55.15 41.14,59.42 40.07,60.49 C39.00,61.56 34.74,61.56 33.67,60.49 C32.60,59.42 32.60,55.15 33.67,54.08Z" fill="#c8d5ee" stroke="none" stroke-width="0.5" opacity="1" stroke-linejoin="round"/>
<path d="M29.83,56.01 C31.11,55.47 35.59,52.48 37.51,52.80 C39.43,53.12 41.14,56.22 41.35,57.93 C41.56,59.64 41.56,62.20 38.79,63.05 C36.02,63.90 28.12,62.84 24.71,63.05 C21.30,63.26 19.38,64.12 18.31,64.33" fill="none" stroke="#9fb8e2" stroke-width="0.35" opacity="1" stroke-linejoin="round"/>
<path d="M59.10,48.96 C60.17,49.81 64.01,52.16 65.50,54.08 C66.99,56.00 67.85,58.57 68.06,60.49 C68.27,62.41 66.99,64.76 66.78,65.61" fill="none" stroke="#444444" stroke-width="0.45" opacity="1" stroke-linejoin="round"/>
<path d="M78.31,40.00 C80.23,41.71 84.49,48.53 89.83,50.24 C95.16,51.95 104.77,50.24 110.32,50.24 C115.87,50.24 120.99,50.24 123.12,50.24" fill="none" stroke="#444444" stroke-width="0.45" stroke-dasharray="0.9 0.7" opacity="1" stroke-linejoin="round"/>
<path d="M83.43,60.49 C83.43,59.64 88.33,57.40 92.39,56.65 C96.44,55.90 103.49,55.90 107.76,56.01 C112.03,56.12 118.00,56.33 118.00,57.29 C118.00,58.25 112.03,61.02 107.76,61.77 C103.49,62.52 96.44,61.98 92.39,61.77 C88.33,61.56 83.43,61.34 83.43,60.49Z" fill="none" stroke="#444444" stroke-width="0.45" opacity="1" stroke-linejoin="round"/>
<path d="M97.51,63.05 C100.07,63.48 108.61,66.04 112.88,65.61 C117.15,65.18 121.41,61.34 123.12,60.49" fill="none" stroke="#444444" stroke-width="0.45" opacity="1" stroke-linejoin="round"/>
<path d="M71.90,59.85 C72.12,59.42 74.68,59.10 75.75,59.21 C76.82,59.32 78.53,60.06 78.31,60.49 C78.09,60.92 75.53,61.88 74.46,61.77 C73.39,61.66 71.69,60.28 71.90,59.85Z" fill="none" stroke="#e58a7c" stroke-width="0.35" opacity="1" stroke-linejoin="round"/>
</g>
<rect x="0" y="0" width="123.10" height="66.3" fill="none" stroke="#d0d0d0" stroke-width="0.5"/>
<text x="-0.4" y="1.50" font-size="4.3" text-anchor="end" fill="#000">20</text>
<line x1="-0.8" y1="0.00" x2="0" y2="0.00" stroke="#666" stroke-width="0.3"/>
<text x="-0.4" y="8.37" font-size="4.3" text-anchor="end" fill="#000">30</text>
<line x1="-0.8" y1="6.87" x2="0" y2="6.87" stroke="#666" stroke-width="0.3"/>
<text x="-0.4" y="17.03" font-size="4.3" text-anchor="end" fill="#000">50</text>
<line x1="-0.8" y1="15.53" x2="0" y2="15.53" stroke="#666" stroke-width="0.3"/>
<text x="-0.4" y="22.73" font-size="4.3" text-anchor="end" fill="#000">70</text>
<line x1="-0.8" y1="21.23" x2="0" y2="21.23" stroke="#666" stroke-width="0.3"/>
<text x="-0.4" y="28.78" font-size="4.3" text-anchor="end" fill="#000">100</text>
<line x1="-0.8" y1="27.28" x2="0" y2="27.28" stroke="#666" stroke-width="0.3"/>
<text x="-0.4" y="40.52" font-size="4.3" text-anchor="end" fill="#000">200</text>
<line x1="-0.8" y1="39.02" x2="0" y2="39.02" stroke="#666" stroke-width="0.3"/>
<text x="-0.4" y="47.40" font-size="4.3" text-anchor="end" fill="#000">300</text>
<line x1="-0.8" y1="45.90" x2="0" y2="45.90" stroke="#666" stroke-width="0.3"/>
<text x="-0.4" y="56.05" font-size="4.3" text-anchor="end" fill="#000">500</text>
<line x1="-0.8" y1="54.55" x2="0" y2="54.55" stroke="#666" stroke-width="0.3"/>
<text x="-0.4" y="61.76" font-size="4.3" text-anchor="end" fill="#000">700</text>
<line x1="-0.8" y1="60.26" x2="0" y2="60.26" stroke="#666" stroke-width="0.3"/>
<text x="-0.4" y="67.80" font-size="4.3" text-anchor="end" fill="#000">1000</text>
<line x1="-0.8" y1="66.30" x2="0" y2="66.30" stroke="#666" stroke-width="0.3"/>
<text x="21.02" y="70.10" font-size="3.9" text-anchor="middle" fill="#000">60 E</text>
<text x="41.53" y="70.10" font-size="3.9" text-anchor="middle" fill="#000">120 E</text>
<text x="62.05" y="70.10" font-size="3.9" text-anchor="middle" fill="#000">180</text>
<text x="82.57" y="70.10" font-size="3.9" text-anchor="middle" fill="#000">120 W</text>
<text x="103.08" y="70.10" font-size="3.9" text-anchor="middle" fill="#000">60 W</text>
</g>
<clipPath id="ci"><rect x="0" y="0" width="123.40" height="66.3"/></clipPath>
<text x="293.0" y="196.0" font-size="6.3" fill="#000" stroke="#000" stroke-width="0.05">(i) MIROC-ESM, JJA</text>
<g transform="translate(291.6,198.0)">
<g clip-path="url(#ci)">
<linearGradient id="gi9" gradientUnits="userSpaceOnUse" x1="0" y1="0.30000000000001137" x2="0" y2="26.5"><stop offset="0.0000" stop-color="#ffffff"/><stop offset="0.0496" stop-color="#eef2f8"/><stop offset="0.1031" stop-color="#dce5f2"/><stop offset="0.2557" stop-color="#d2ddef"/><stop offset="0.2824" stop-color="#aabfe0"/><stop offset="0.3092" stop-color="#f2c8c0"/><stop offset="0.3511" stop-color="#f6d8d0"/><stop offset="0.3931" stop-color="#fcf0ec"/><stop offset="0.4275" stop-color="#f4ad90"/><stop offset="0.5229" stop-color="#f2a080"/><stop offset="0.6756" stop-color="#ee9070"/><stop offset="0.8092" stop-color="#f2a486"/><stop offset="0.8664" stop-color="#f7c8b4"/><stop offset="0.9618" stop-color="#fbe4da"/><stop offset="1.0000" stop-color="#ffffff"/></linearGradient>
<rect x="0.00" y="0.30" width="123.40" height="26.20" fill="url(#gi9)" opacity="1"/>
<path d="M27.00,15.60 C30.33,15.20 40.67,14.57 50.00,14.40 C59.33,14.23 77.17,14.37 83.00,14.60 C88.83,14.83 90.50,15.40 85.00,15.80 C79.50,16.20 59.17,16.83 50.00,17.00 C40.83,17.17 33.83,17.03 30.00,16.80 C26.17,16.57 23.67,16.00 27.00,15.60Z" fill="#e26a52" stroke="none" stroke-width="0.5" opacity="0.8" stroke-linejoin="round"/>
<rect x="116.70" y="21.80" width="3.90" height="1.30" fill="#ffffff" opacity="1"/>
<path d="M0,1.2 H124" fill="none" stroke="#444444" stroke-width="0.45" stroke-dasharray="0.9 0.7" opacity="1" stroke-linejoin="round"/>
<path d="M0,7.0 H124" fill="none" stroke="#444444" stroke-width="0.45" stroke-dasharray="0.9 0.7" opacity="1" stroke-linejoin="round"/>
<path d="M42.93,18.00 C44.21,18.43 47.21,19.92 50.62,20.56 C54.04,21.20 59.15,21.73 63.42,21.84 C67.69,21.95 71.95,21.31 76.22,21.20 C80.49,21.09 84.76,21.09 89.03,21.20 C93.30,21.31 99.70,21.73 101.83,21.84" fill="none" stroke="#444444" stroke-width="0.45" stroke-dasharray="0.9 0.7" opacity="1" stroke-linejoin="round"/>
<path d="M42.40,18.50 C42.73,17.75 42.57,15.08 44.40,14.00 C46.23,12.92 46.07,12.25 53.40,12.00 C60.73,11.75 76.73,12.27 88.40,12.50 C100.07,12.73 117.57,13.25 123.40,13.40" fill="none" stroke="#444444" stroke-width="0.45" stroke-dasharray="0.9 0.7" opacity="1" stroke-linejoin="round"/>
<path d="M17.07,25.25 C17.94,23.78 20.89,23.00 23.32,22.65 C25.75,22.30 29.91,21.87 31.65,23.17 C33.38,24.47 34.42,28.73 33.73,30.46 C33.03,32.20 30.08,33.41 27.48,33.58 C24.88,33.75 19.84,32.89 18.11,31.50 C16.37,30.11 16.20,26.72 17.07,25.25Z" fill="#f0a688" stroke="none" stroke-width="0.5" opacity="0.7" stroke-linejoin="round"/>
<path d="M19.15,25.25 C19.67,24.12 22.62,23.69 24.36,23.69 C26.10,23.69 28.88,24.30 29.57,25.25 C30.26,26.20 29.91,28.55 28.52,29.42 C27.13,30.29 22.79,31.16 21.23,30.46 C19.67,29.77 18.63,26.38 19.15,25.25Z" fill="#ec9a7e" stroke="none" stroke-width="0.5" opacity="0.5" stroke-linejoin="round"/>
<path d="M16.02,30.46 C16.19,29.25 18.28,26.29 20.19,25.25 C22.10,24.21 25.74,23.69 27.48,24.21 C29.22,24.73 30.78,26.99 30.61,28.38 C30.44,29.77 28.35,31.85 26.44,32.54 C24.53,33.23 20.89,32.89 19.15,32.54 C17.41,32.19 15.85,31.68 16.02,30.46Z" fill="none" stroke="#333" stroke-width="0.5" stroke-dasharray="1.1 0.55" opacity="1" stroke-linejoin="round"/>
<path d="M13.94,30.46 C13.77,28.64 16.54,24.99 19.15,23.69 C21.75,22.39 26.96,21.70 29.57,22.65 C32.17,23.61 34.61,27.42 34.78,29.42 C34.95,31.41 33.04,33.75 30.61,34.62 C28.18,35.49 22.97,35.31 20.19,34.62 C17.41,33.93 14.11,32.28 13.94,30.46Z" fill="none" stroke="#333" stroke-width="0.5" stroke-dasharray="1.1 0.55" opacity="1" stroke-linejoin="round"/>
<path d="M11.86,30.46 C12.55,28.73 14.81,24.65 18.11,23.17 C21.41,21.69 28.18,20.21 31.65,21.60 C35.12,22.99 38.42,28.89 38.94,31.50 C39.46,34.10 37.73,36.27 34.78,37.23 C31.83,38.18 24.70,37.84 21.23,37.23 C17.76,36.62 15.50,34.71 13.94,33.58 C12.38,32.45 11.16,32.20 11.86,30.46Z" fill="none" stroke="#333" stroke-width="0.5" stroke-dasharray="1.1 0.55" opacity="1" stroke-linejoin="round"/>
<path d="M10.30,29.42 C11.17,27.25 13.16,24.13 17.07,22.65 C20.97,21.17 29.39,18.91 33.73,20.56 C38.07,22.21 42.07,29.33 43.11,32.54 C44.15,35.75 43.28,38.44 39.98,39.83 C36.68,41.22 28.01,41.57 23.32,40.88 C18.63,40.19 14.03,37.58 11.86,35.67 C9.69,33.76 9.43,31.59 10.30,29.42Z" fill="none" stroke="#333" stroke-width="0.5" stroke-dasharray="1.1 0.55" opacity="1" stroke-linejoin="round"/>
<path d="M8.73,28.38 C9.60,25.74 11.50,23.34 16.02,21.92 C20.53,20.49 30.61,17.71 35.82,19.83 C41.03,21.95 45.89,30.68 47.28,34.62 C48.67,38.56 47.80,41.83 44.15,43.48 C40.50,45.13 30.95,45.48 25.40,44.52 C19.84,43.57 13.60,40.44 10.82,37.75 C8.04,35.06 7.86,31.02 8.73,28.38Z" fill="none" stroke="#333" stroke-width="0.5" stroke-dasharray="1.1 0.55" opacity="1" stroke-linejoin="round"/>
<path d="M12.90,30.46 C13.72,29.02 15.68,24.77 18.63,23.38 C21.58,21.99 27.57,20.94 30.61,22.12 C33.65,23.30 36.51,28.20 36.86,30.46 C37.21,32.72 35.38,34.77 32.69,35.67 C30.00,36.57 23.87,36.49 20.71,35.88 C17.55,35.27 15.03,32.92 13.73,32.02 C12.43,31.12 12.08,31.90 12.90,30.46Z" fill="none" stroke="#e58a7c" stroke-width="0.35" opacity="1" stroke-linejoin="round"/>
<path d="M11.02,29.94 C11.84,28.00 13.98,24.44 17.59,22.96 C21.20,21.48 28.78,19.57 32.69,21.08 C36.59,22.59 40.24,29.07 41.02,32.02 C41.80,34.97 40.50,37.63 37.38,38.79 C34.26,39.95 26.39,39.70 22.28,39.00 C18.16,38.30 14.57,36.13 12.69,34.62 C10.81,33.11 10.20,31.88 11.02,29.94Z" fill="none" stroke="#e58a7c" stroke-width="0.35" opacity="1" stroke-linejoin="round"/>
<path d="M-0.60,23.12 C0.25,25.68 3.88,34.44 4.52,38.49 C5.16,42.55 3.45,45.96 3.24,47.45" fill="none" stroke="#444444" stroke-width="0.45" opacity="1" stroke-linejoin="round"/>
<path d="M37.81,30.80 C39.09,32.08 43.78,35.72 45.49,38.49 C47.20,41.27 46.78,45.53 48.06,47.45 C49.34,49.37 52.33,49.58 53.18,50.01" fill="none" stroke="#e58a7c" stroke-width="0.35" opacity="1" stroke-linejoin="round"/>
<path d="M42.93,32.08 C44.64,33.36 50.62,36.78 53.18,39.77 C55.74,42.76 57.45,48.30 58.30,50.01" fill="none" stroke="#e58a7c" stroke-width="0.35" opacity="1" stroke-linejoin="round"/>
<path d="M48.06,30.80 C49.77,31.87 55.74,35.08 58.30,37.21 C60.86,39.35 62.57,42.54 63.42,43.61" fill="none" stroke="#e58a7c" stroke-width="0.35" opacity="1" stroke-linejoin="round"/>
<path d="M48.90,40.50 C49.57,39.62 52.57,39.45 53.40,40.20 C54.23,40.95 54.57,44.12 53.90,45.00 C53.23,45.88 50.23,46.25 49.40,45.50 C48.57,44.75 48.23,41.38 48.90,40.50Z" fill="#f5cbb8" stroke="none" stroke-width="0.5" opacity="0.8" stroke-linejoin="round"/>
<path d="M53.18,29.52 C54.25,28.88 58.51,28.88 59.58,29.52 C60.65,30.16 60.65,32.72 59.58,33.36 C58.51,34.00 54.25,34.00 53.18,33.36 C52.11,32.72 52.11,30.16 53.18,29.52Z" fill="#c6d4ee" stroke="none" stroke-width="0.5" opacity="1" stroke-linejoin="round"/>
<path d="M-0.60,26.96 C0.25,27.39 3.24,28.67 4.52,29.52 C5.80,30.37 6.65,31.65 7.08,32.08" fill="none" stroke="#9fb8e2" stroke-width="0.35" opacity="1" stroke-linejoin="round"/>
<path d="M50.62,28.24 C52.33,28.24 58.73,27.39 60.86,28.24 C62.99,29.09 62.99,32.51 63.42,33.36" fill="none" stroke="#9fb8e2" stroke-width="0.35" opacity="1" stroke-linejoin="round"/>
<path d="M97.53,32.08 C97.74,30.80 99.23,30.37 101.37,30.16 C103.51,29.95 108.42,30.05 110.34,30.80 C112.26,31.55 113.33,33.37 112.90,34.65 C112.47,35.93 109.91,37.96 107.78,38.49 C105.64,39.02 101.80,38.92 100.09,37.85 C98.38,36.78 97.32,33.36 97.53,32.08Z" fill="none" stroke="#444444" stroke-width="0.48" opacity="1" stroke-linejoin="round"/>
<path d="M93.69,32.08 C94.33,30.48 95.82,28.35 98.81,27.60 C101.80,26.85 108.63,26.42 111.62,27.60 C114.61,28.77 116.74,32.30 116.74,34.65 C116.74,37.00 114.61,40.52 111.62,41.69 C108.63,42.86 101.59,42.44 98.81,41.69 C96.03,40.94 95.82,38.81 94.97,37.21 C94.12,35.61 93.05,33.68 93.69,32.08Z" fill="none" stroke="#444444" stroke-width="0.48" opacity="1" stroke-linejoin="round"/>
<path d="M89.85,33.36 C90.49,31.01 91.13,27.07 94.97,25.68 C98.81,24.29 108.42,23.76 112.90,25.04 C117.38,26.32 121.22,30.27 121.86,33.36 C122.50,36.46 120.58,41.69 116.74,43.61 C112.90,45.53 103.08,45.53 98.81,44.89 C94.54,44.25 92.62,41.69 91.13,39.77 C89.64,37.85 89.21,35.71 89.85,33.36Z" fill="none" stroke="#444444" stroke-width="0.48" opacity="1" stroke-linejoin="round"/>
<path d="M84.73,30.80 C85.37,28.24 86.22,25.68 91.13,24.40 C96.04,23.12 108.20,21.84 114.18,23.12 C120.15,24.40 125.70,28.24 126.98,32.08 C128.26,35.92 126.77,43.61 121.86,46.17 C116.95,48.73 103.29,48.52 97.53,47.45 C91.77,46.38 89.42,42.55 87.29,39.77 C85.16,37.00 84.09,33.36 84.73,30.80Z" fill="none" stroke="#444444" stroke-width="0.48" opacity="1" stroke-linejoin="round"/>
<path d="M88.57,48.73 C87.08,47.02 82.38,42.12 79.61,38.49 C76.83,34.86 71.92,29.52 71.92,26.96 C71.92,24.40 75.13,23.76 79.61,23.12 C84.09,22.48 92.41,22.48 98.81,23.12 C105.21,23.76 113.75,25.68 118.02,26.96 C122.29,28.24 123.35,30.16 124.42,30.80" fill="none" stroke="#444444" stroke-width="0.45" opacity="1" stroke-linejoin="round"/>
<path d="M97.53,33.36 C98.60,31.87 102.01,30.59 103.93,30.80 C105.85,31.02 108.63,32.52 109.06,34.65 C109.49,36.79 107.77,41.69 106.49,43.61 C105.21,45.53 102.86,46.81 101.37,46.17 C99.88,45.53 98.17,41.91 97.53,39.77 C96.89,37.64 96.46,34.86 97.53,33.36Z" fill="none" stroke="#e58a7c" stroke-width="0.35" opacity="1" stroke-linejoin="round"/>
<path d="M60.40,29.52 C62.53,29.95 68.93,32.29 73.20,32.08 C77.47,31.87 83.87,28.88 86.01,28.24" fill="none" stroke="#9fb8e2" stroke-width="0.35" opacity="1" stroke-linejoin="round"/>
<path d="M22.45,59.21 C23.73,57.72 29.49,56.65 32.69,56.65 C35.89,56.65 39.94,57.72 41.65,59.21 C43.36,60.70 45.70,64.54 42.93,65.61 C40.16,66.68 28.42,66.68 25.01,65.61 C21.60,64.54 21.17,60.70 22.45,59.21Z" fill="#c4d2ea" stroke="none" stroke-width="0.5" opacity="1" stroke-linejoin="round"/>
<path d="M30.90,59.50 C32.23,59.12 38.48,59.17 39.90,59.50 C41.32,59.83 40.73,61.12 39.40,61.50 C38.07,61.88 33.32,62.13 31.90,61.80 C30.48,61.47 29.57,59.88 30.90,59.50Z" fill="#9ab0dc" stroke="none" stroke-width="0.5" opacity="1" stroke-linejoin="round"/>
<path d="M12.20,50.24 C12.84,48.85 16.47,47.89 18.61,48.32 C20.74,48.75 22.66,51.20 25.01,52.80 C27.36,54.40 30.13,56.65 32.69,57.93 C35.25,59.21 41.01,59.85 40.37,60.49 C39.73,61.13 32.48,61.77 28.85,61.77 C25.22,61.77 20.96,61.34 18.61,60.49 C16.26,59.64 15.83,58.36 14.76,56.65 C13.69,54.94 11.56,51.63 12.20,50.24Z" fill="none" stroke="#444444" stroke-width="0.45" opacity="1" stroke-linejoin="round"/>
<path d="M21.17,57.93 C24.58,57.50 37.38,54.29 41.65,55.36 C45.92,56.43 45.92,62.83 46.78,64.33" fill="none" stroke="#9fb8e2" stroke-width="0.35" opacity="1" stroke-linejoin="round"/>
<path d="M49.40,46.00 C49.98,45.42 52.65,45.50 53.40,46.00 C54.15,46.50 54.48,48.42 53.90,49.00 C53.32,49.58 50.65,50.00 49.90,49.50 C49.15,49.00 48.82,46.58 49.40,46.00Z" fill="#f5cbb8" stroke="none" stroke-width="0.5" opacity="0.8" stroke-linejoin="round"/>
<path d="M57.90,50.60 C58.65,49.90 61.65,49.90 62.40,50.60 C63.15,51.30 63.15,54.10 62.40,54.80 C61.65,55.50 58.65,55.50 57.90,54.80 C57.15,54.10 57.15,51.30 57.90,50.60Z" fill="#f5cbb8" stroke="none" stroke-width="0.5" opacity="0.8" stroke-linejoin="round"/>
<path d="M-0.60,55.36 C0.68,54.57 5.80,55.15 7.08,56.01 C8.36,56.86 8.36,59.70 7.08,60.49 C5.80,61.28 0.68,61.60 -0.60,60.74 C-1.88,59.89 -1.88,56.15 -0.60,55.36Z" fill="none" stroke="#444444" stroke-width="0.45" opacity="1" stroke-linejoin="round"/>
<path d="M-0.60,46.40 C0.68,45.12 5.37,45.12 7.08,46.40 C8.79,47.68 10.92,52.80 9.64,54.08 C8.36,55.36 1.11,55.36 -0.60,54.08 C-2.31,52.80 -1.88,47.68 -0.60,46.40Z" fill="none" stroke="#9fb8e2" stroke-width="0.35" opacity="1" stroke-linejoin="round"/>
<path d="M35.25,40.00 C36.74,41.28 40.79,45.55 44.21,47.68 C47.62,49.81 52.54,51.95 55.74,52.80 C58.94,53.65 62.14,52.80 63.42,52.80" fill="none" stroke="#e58a7c" stroke-width="0.35" opacity="1" stroke-linejoin="round"/>
<path d="M79.61,40.00 C81.74,41.28 87.07,46.19 92.41,47.68 C97.74,49.17 106.29,48.96 111.62,48.96 C116.95,48.96 122.29,47.89 124.42,47.68" fill="none" stroke="#444444" stroke-width="0.45" opacity="1" stroke-linejoin="round"/>
<path d="M62.96,66.89 C64.03,64.33 66.58,53.87 69.36,51.52 C72.13,49.17 75.13,52.37 79.61,52.80 C84.09,53.23 90.91,54.08 96.25,54.08 C101.59,54.08 106.93,52.80 111.62,52.80 C116.31,52.80 122.29,53.87 124.42,54.08" fill="none" stroke="#444444" stroke-width="0.45" stroke-dasharray="0.9 0.7" opacity="1" stroke-linejoin="round"/>
<path d="M86.01,60.49 C86.01,59.53 92.41,57.08 96.25,56.65 C100.09,56.22 107.35,56.86 109.06,57.93 C110.77,59.00 108.62,62.30 106.49,63.05 C104.35,63.80 99.66,62.84 96.25,62.41 C92.84,61.98 86.01,61.45 86.01,60.49Z" fill="none" stroke="#444444" stroke-width="0.45" opacity="1" stroke-linejoin="round"/>
<path d="M86.01,65.61 C88.14,65.29 94.54,63.69 98.81,63.69 C103.08,63.69 109.48,65.29 111.62,65.61" fill="none" stroke="#444444" stroke-width="0.45" opacity="1" stroke-linejoin="round"/>
<path d="M84.73,48.96 C85.80,48.53 91.34,51.09 92.41,52.80 C93.48,54.51 92.20,58.78 91.13,59.21 C90.06,59.64 87.08,57.07 86.01,55.36 C84.94,53.65 83.66,49.39 84.73,48.96Z" fill="none" stroke="#9fb8e2" stroke-width="0.35" opacity="1" stroke-linejoin="round"/>
<path d="M60.40,50.24 C61.04,49.60 63.60,50.67 64.24,51.52 C64.88,52.37 64.88,54.72 64.24,55.36 C63.60,56.00 61.04,56.21 60.40,55.36 C59.76,54.51 59.76,50.88 60.40,50.24Z" fill="#f2c4b0" stroke="none" stroke-width="0.5" opacity="0.6" stroke-linejoin="round"/>
<path d="M7.08,28.24 C7.93,25.47 11.35,24.51 17.33,23.12 C23.30,21.73 36.53,18.21 42.93,19.92 C49.33,21.63 53.60,29.41 55.74,33.36 C57.87,37.31 58.73,41.26 55.74,43.61 C52.75,45.96 45.07,48.09 37.81,47.45 C30.55,46.81 17.32,42.97 12.20,39.77 C7.08,36.57 6.22,31.02 7.08,28.24Z" fill="none" stroke="#333" stroke-width="0.5" stroke-dasharray="1.1 0.55" opacity="1" stroke-linejoin="round"/>
<path d="M4.52,26.96 C6.44,25.89 9.22,21.95 16.05,20.56 C22.88,19.17 38.02,16.29 45.49,18.64 C52.96,20.99 58.30,29.85 60.86,34.65 C63.42,39.45 64.70,44.68 60.86,47.45 C57.02,50.22 46.35,52.14 37.81,51.29 C29.27,50.44 15.19,45.75 9.64,42.33 C4.09,38.92 5.37,32.72 4.52,30.80" fill="none" stroke="#333" stroke-width="0.5" stroke-dasharray="1.1 0.55" opacity="1" stroke-linejoin="round"/>
</g>
<rect x="0" y="0" width="123.40" height="66.3" fill="none" stroke="#d0d0d0" stroke-width="0.5"/>
<text x="-0.4" y="1.50" font-size="4.3" text-anchor="end" fill="#000">20</text>
<line x1="-0.8" y1="0.00" x2="0" y2="0.00" stroke="#666" stroke-width="0.3"/>
<text x="-0.4" y="8.37" font-size="4.3" text-anchor="end" fill="#000">30</text>
<line x1="-0.8" y1="6.87" x2="0" y2="6.87" stroke="#666" stroke-width="0.3"/>
<text x="-0.4" y="17.03" font-size="4.3" text-anchor="end" fill="#000">50</text>
<line x1="-0.8" y1="15.53" x2="0" y2="15.53" stroke="#666" stroke-width="0.3"/>
<text x="-0.4" y="22.73" font-size="4.3" text-anchor="end" fill="#000">70</text>
<line x1="-0.8" y1="21.23" x2="0" y2="21.23" stroke="#666" stroke-width="0.3"/>
<text x="-0.4" y="28.78" font-size="4.3" text-anchor="end" fill="#000">100</text>
<line x1="-0.8" y1="27.28" x2="0" y2="27.28" stroke="#666" stroke-width="0.3"/>
<text x="-0.4" y="40.52" font-size="4.3" text-anchor="end" fill="#000">200</text>
<line x1="-0.8" y1="39.02" x2="0" y2="39.02" stroke="#666" stroke-width="0.3"/>
<text x="-0.4" y="47.40" font-size="4.3" text-anchor="end" fill="#000">300</text>
<line x1="-0.8" y1="45.90" x2="0" y2="45.90" stroke="#666" stroke-width="0.3"/>
<text x="-0.4" y="56.05" font-size="4.3" text-anchor="end" fill="#000">500</text>
<line x1="-0.8" y1="54.55" x2="0" y2="54.55" stroke="#666" stroke-width="0.3"/>
<text x="-0.4" y="61.76" font-size="4.3" text-anchor="end" fill="#000">700</text>
<line x1="-0.8" y1="60.26" x2="0" y2="60.26" stroke="#666" stroke-width="0.3"/>
<text x="-0.4" y="67.80" font-size="4.3" text-anchor="end" fill="#000">1000</text>
<line x1="-0.8" y1="66.30" x2="0" y2="66.30" stroke="#666" stroke-width="0.3"/>
<text x="21.07" y="70.10" font-size="3.9" text-anchor="middle" fill="#000">60 E</text>
<text x="41.63" y="70.10" font-size="3.9" text-anchor="middle" fill="#000">120 E</text>
<text x="62.20" y="70.10" font-size="3.9" text-anchor="middle" fill="#000">180</text>
<text x="82.77" y="70.10" font-size="3.9" text-anchor="middle" fill="#000">120 W</text>
<text x="103.33" y="70.10" font-size="3.9" text-anchor="middle" fill="#000">60 W</text>
</g>
<polygon points="16.3,96.69999999999999 21.3,93.3 21.3,100.1" fill="#3b4cc0"/>
<polygon points="134.1,96.69999999999999 128.8,93.3 128.8,100.1" fill="#b40426"/>
<rect x="21.30" y="93.3" width="5.04" height="6.799999999999997" fill="#4055c8"/>
<rect x="26.19" y="93.3" width="5.04" height="6.799999999999997" fill="#4f69d9"/>
<rect x="31.07" y="93.3" width="5.04" height="6.799999999999997" fill="#5e7de7"/>
<rect x="35.96" y="93.3" width="5.04" height="6.799999999999997" fill="#6c8ff1"/>
<rect x="40.85" y="93.3" width="5.04" height="6.799999999999997" fill="#7da0f9"/>
<rect x="45.73" y="93.3" width="5.04" height="6.799999999999997" fill="#8db0fe"/>
<rect x="50.62" y="93.3" width="5.04" height="6.799999999999997" fill="#9dbdff"/>
<rect x="55.50" y="93.3" width="5.04" height="6.799999999999997" fill="#adc9fd"/>
<rect x="60.39" y="93.3" width="5.04" height="6.799999999999997" fill="#bbd1f8"/>
<rect x="65.28" y="93.3" width="5.04" height="6.799999999999997" fill="#cad8ef"/>
<rect x="70.16" y="93.3" width="5.04" height="6.799999999999997" fill="#d7dce3"/>
<rect x="75.05" y="93.3" width="5.04" height="6.799999999999997" fill="#e2dad5"/>
<rect x="79.94" y="93.3" width="5.04" height="6.799999999999997" fill="#edd2c3"/>
<rect x="84.82" y="93.3" width="5.04" height="6.799999999999997" fill="#f3c7b1"/>
<rect x="89.71" y="93.3" width="5.04" height="6.799999999999997" fill="#f7ba9f"/>
<rect x="94.60" y="93.3" width="5.04" height="6.799999999999997" fill="#f7aa8c"/>
<rect x="99.48" y="93.3" width="5.04" height="6.799999999999997" fill="#f4987a"/>
<rect x="104.37" y="93.3" width="5.04" height="6.799999999999997" fill="#ee8669"/>
<rect x="109.25" y="93.3" width="5.04" height="6.799999999999997" fill="#e57058"/>
<rect x="114.14" y="93.3" width="5.04" height="6.799999999999997" fill="#da5a49"/>
<rect x="119.03" y="93.3" width="5.04" height="6.799999999999997" fill="#cc403a"/>
<rect x="123.91" y="93.3" width="5.04" height="6.799999999999997" fill="#bb1b2c"/>
<text x="21.90" y="103.70" font-size="3.6" text-anchor="middle" fill="#333">−27</text>
<text x="31.70" y="103.70" font-size="3.6" text-anchor="middle" fill="#333">−21</text>
<text x="41.50" y="103.70" font-size="3.6" text-anchor="middle" fill="#333">−15</text>
<text x="50.60" y="103.70" font-size="3.6" text-anchor="middle" fill="#333">−9</text>
<text x="59.70" y="103.70" font-size="3.6" text-anchor="middle" fill="#333">−3</text>
<text x="68.80" y="103.70" font-size="3.6" text-anchor="middle" fill="#333">−1</text>
<text x="82.60" y="103.70" font-size="3.6" text-anchor="middle" fill="#333">1</text>
<text x="91.70" y="103.70" font-size="3.6" text-anchor="middle" fill="#333">3</text>
<text x="100.80" y="103.70" font-size="3.6" text-anchor="middle" fill="#333">9</text>
<text x="110.60" y="103.70" font-size="3.6" text-anchor="middle" fill="#333">15</text>
<text x="119.70" y="103.70" font-size="3.6" text-anchor="middle" fill="#333">21</text>
<text x="128.80" y="103.70" font-size="3.6" text-anchor="middle" fill="#333">27</text>
<text x="74.9" y="106.6" font-size="3.6" text-anchor="middle" fill="#333">m s<tspan font-size="2.6" dy="-1.2">−1</tspan></text>
<polygon points="155.6,273.1 160.5,269.8 160.5,276.4" fill="#3b4cc0"/>
<polygon points="273.2,273.1 266.8,269.8 266.8,276.4" fill="#b40426"/>
<rect x="160.50" y="269.8" width="6.40" height="6.599999999999966" fill="#4358cb"/>
<rect x="166.75" y="269.8" width="6.40" height="6.599999999999966" fill="#5572df"/>
<rect x="173.01" y="269.8" width="6.40" height="6.599999999999966" fill="#688aef"/>
<rect x="179.26" y="269.8" width="6.40" height="6.599999999999966" fill="#7da0f9"/>
<rect x="185.51" y="269.8" width="6.40" height="6.599999999999966" fill="#92b4fe"/>
<rect x="191.76" y="269.8" width="6.40" height="6.599999999999966" fill="#a6c4fe"/>
<rect x="198.02" y="269.8" width="6.40" height="6.599999999999966" fill="#bad0f8"/>
<rect x="204.27" y="269.8" width="6.40" height="6.599999999999966" fill="#ccd9ed"/>
<rect x="210.52" y="269.8" width="6.40" height="6.599999999999966" fill="#dddcdc"/>
<rect x="216.78" y="269.8" width="6.40" height="6.599999999999966" fill="#ebd3c6"/>
<rect x="223.03" y="269.8" width="6.40" height="6.599999999999966" fill="#f4c6af"/>
<rect x="229.28" y="269.8" width="6.40" height="6.599999999999966" fill="#f7b497"/>
<rect x="235.54" y="269.8" width="6.40" height="6.599999999999966" fill="#f59f80"/>
<rect x="241.79" y="269.8" width="6.40" height="6.599999999999966" fill="#ee8669"/>
<rect x="248.04" y="269.8" width="6.40" height="6.599999999999966" fill="#e36b54"/>
<rect x="254.29" y="269.8" width="6.40" height="6.599999999999966" fill="#d24b40"/>
<rect x="260.55" y="269.8" width="6.40" height="6.599999999999966" fill="#be242e"/>
<text x="161.90" y="280.00" font-size="3.6" text-anchor="middle" fill="#333">−12</text>
<text x="180.00" y="280.00" font-size="3.6" text-anchor="middle" fill="#333">−6</text>
<text x="192.20" y="280.00" font-size="3.6" text-anchor="middle" fill="#333">−2</text>
<text x="204.20" y="280.00" font-size="3.6" text-anchor="middle" fill="#333">−1</text>
<text x="223.60" y="280.00" font-size="3.6" text-anchor="middle" fill="#333">1</text>
<text x="236.20" y="280.00" font-size="3.6" text-anchor="middle" fill="#333">3</text>
<text x="248.60" y="280.00" font-size="3.6" text-anchor="middle" fill="#333">6</text>
<text x="267.20" y="280.00" font-size="3.6" text-anchor="middle" fill="#333">12</text>
<text x="214.2" y="283.0" font-size="3.6" text-anchor="middle" fill="#333">m s<tspan font-size="2.6" dy="-1.2">−1</tspan></text>
<rect x="417.8" y="86.7" width="76.8" height="118.5" fill="#fff" stroke="#333" stroke-width="0.8"/>
<text x="421" y="96" font-size="7.4" font-weight="bold" fill="#000">QBO definition</text>
<text x="421" y="109.40" font-size="5.0" fill="#111">ERA5 (70 hPa JJA)</text>
<text x="421" y="120.78" font-size="5.0" fill="#111">EC-EARTH (70 hPa JJA)</text>
<text x="421" y="132.16" font-size="5.0" fill="#111">MRI-ESM2.0 (70 hPa JJA)</text>
<text x="421" y="143.54" font-size="5.0" fill="#111">GISS-E2-2G (70 hPa JJA)</text>
<text x="421" y="154.92" font-size="5.0" fill="#111">LMDz (85 hPa JJA)</text>
<text x="421" y="166.30" font-size="5.0" fill="#111">ECHAM5sh (70 hPa JJA)</text>
<text x="421" y="177.68" font-size="5.0" fill="#111">WACCM (70 hPa JJA)</text>
<text x="421" y="189.06" font-size="5.0" fill="#111">MIROC-AGCM (70 hPa JJA)</text>
<text x="421" y="200.44" font-size="5.0" fill="#111">MIROC-ESM (70 hPa JJA)</text>
</svg></body></html>
